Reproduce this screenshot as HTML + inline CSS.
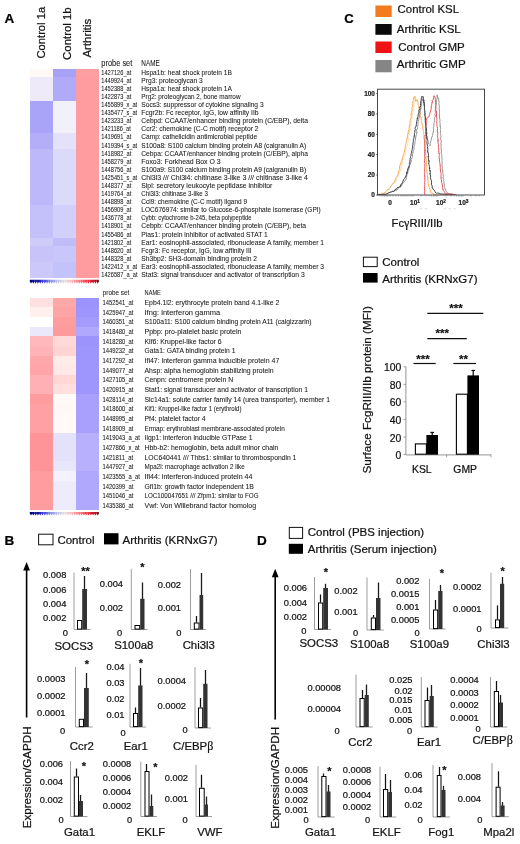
<!DOCTYPE html>
<html lang="en">
<head>
<meta charset="utf-8">
<title>Figure</title>
<style>
html,body{margin:0;padding:0;background:#fff;}
body{width:520px;height:844px;overflow:hidden;font-family:"Liberation Sans", Arial, sans-serif;}
svg{display:block;}
svg text{font-family:"Liberation Sans", Arial, sans-serif;stroke:#111;stroke-width:0.22px;paint-order:stroke fill;}
svg .tb text{stroke:#1a1a1a;stroke-width:0.07px;}
</style>
</head>
<body>
<svg width="520" height="844" viewBox="0 0 520 844" shape-rendering="auto">
<rect x="0" y="0" width="520" height="844" fill="#ffffff"/>
<text x="4.5" y="23.2" font-size="13.5" fill="#000" font-weight="bold">A</text>
<text transform="translate(45.4,58.5) rotate(-90)" font-size="11.2" fill="#111">Control 1a</text>
<text transform="translate(70.8,59.9) rotate(-90)" font-size="11.4" fill="#111">Control 1b</text>
<text transform="translate(91.0,57.5) rotate(-90)" font-size="11.4" fill="#111">Arthritis</text>
<g shape-rendering="crispEdges">
<rect x="29.60" y="68.50" width="23.30" height="8.55" fill="#fff8f4"/>
<rect x="52.60" y="68.50" width="23.70" height="8.55" fill="#a8a2f6"/>
<rect x="76.00" y="68.50" width="23.10" height="8.55" fill="#fc9ea2"/>
<rect x="29.60" y="76.55" width="23.30" height="8.55" fill="#eeeafa"/>
<rect x="52.60" y="76.55" width="23.70" height="8.55" fill="#b0aaf8"/>
<rect x="76.00" y="76.55" width="23.10" height="8.55" fill="#ff9ca0"/>
<rect x="29.60" y="84.60" width="23.30" height="8.55" fill="#eeeafa"/>
<rect x="52.60" y="84.60" width="23.70" height="8.55" fill="#b0aaf8"/>
<rect x="76.00" y="84.60" width="23.10" height="8.55" fill="#ff9ca0"/>
<rect x="29.60" y="92.65" width="23.30" height="8.55" fill="#eeeafa"/>
<rect x="52.60" y="92.65" width="23.70" height="8.55" fill="#b0aaf8"/>
<rect x="76.00" y="92.65" width="23.10" height="8.55" fill="#ff9ca0"/>
<rect x="29.60" y="100.70" width="23.30" height="8.55" fill="#aaa4f8"/>
<rect x="52.60" y="100.70" width="23.70" height="8.55" fill="#f2f0fa"/>
<rect x="76.00" y="100.70" width="23.10" height="8.55" fill="#ff9ca0"/>
<rect x="29.60" y="108.75" width="23.30" height="8.55" fill="#aaa4f8"/>
<rect x="52.60" y="108.75" width="23.70" height="8.55" fill="#f2f0fa"/>
<rect x="76.00" y="108.75" width="23.10" height="8.55" fill="#ff9ca0"/>
<rect x="29.60" y="116.80" width="23.30" height="8.55" fill="#aaa4f8"/>
<rect x="52.60" y="116.80" width="23.70" height="8.55" fill="#f2f0fa"/>
<rect x="76.00" y="116.80" width="23.10" height="8.55" fill="#ff9ca0"/>
<rect x="29.60" y="124.85" width="23.30" height="8.55" fill="#aaa4f8"/>
<rect x="52.60" y="124.85" width="23.70" height="8.55" fill="#f2f0fa"/>
<rect x="76.00" y="124.85" width="23.10" height="8.55" fill="#ff9ca0"/>
<rect x="29.60" y="132.90" width="23.30" height="8.55" fill="#b4aef8"/>
<rect x="52.60" y="132.90" width="23.70" height="8.55" fill="#e4e2fa"/>
<rect x="76.00" y="132.90" width="23.10" height="8.55" fill="#ff9ca0"/>
<rect x="29.60" y="140.95" width="23.30" height="8.55" fill="#b4aef8"/>
<rect x="52.60" y="140.95" width="23.70" height="8.55" fill="#e4e2fa"/>
<rect x="76.00" y="140.95" width="23.10" height="8.55" fill="#ff9ca0"/>
<rect x="29.60" y="149.00" width="23.30" height="8.55" fill="#bcb8fa"/>
<rect x="52.60" y="149.00" width="23.70" height="8.55" fill="#dcdafa"/>
<rect x="76.00" y="149.00" width="23.10" height="8.55" fill="#ff9ca0"/>
<rect x="29.60" y="157.05" width="23.30" height="8.55" fill="#bcb8fa"/>
<rect x="52.60" y="157.05" width="23.70" height="8.55" fill="#dcdafa"/>
<rect x="76.00" y="157.05" width="23.10" height="8.55" fill="#ff9ca0"/>
<rect x="29.60" y="165.10" width="23.30" height="8.55" fill="#bcb8fa"/>
<rect x="52.60" y="165.10" width="23.70" height="8.55" fill="#dcdafa"/>
<rect x="76.00" y="165.10" width="23.10" height="8.55" fill="#ff9ca0"/>
<rect x="29.60" y="173.15" width="23.30" height="8.55" fill="#bcb8fa"/>
<rect x="52.60" y="173.15" width="23.70" height="8.55" fill="#dcdafa"/>
<rect x="76.00" y="173.15" width="23.10" height="8.55" fill="#ff9ca0"/>
<rect x="29.60" y="181.20" width="23.30" height="8.55" fill="#bcb8fa"/>
<rect x="52.60" y="181.20" width="23.70" height="8.55" fill="#dcdafa"/>
<rect x="76.00" y="181.20" width="23.10" height="8.55" fill="#ff9ca0"/>
<rect x="29.60" y="189.25" width="23.30" height="8.55" fill="#bcb8fa"/>
<rect x="52.60" y="189.25" width="23.70" height="8.55" fill="#dcdafa"/>
<rect x="76.00" y="189.25" width="23.10" height="8.55" fill="#ff9ca0"/>
<rect x="29.60" y="197.30" width="23.30" height="8.55" fill="#bcb8fa"/>
<rect x="52.60" y="197.30" width="23.70" height="8.55" fill="#dcdafa"/>
<rect x="76.00" y="197.30" width="23.10" height="8.55" fill="#ff9ca0"/>
<rect x="29.60" y="205.35" width="23.30" height="8.55" fill="#c4c0fa"/>
<rect x="52.60" y="205.35" width="23.70" height="8.55" fill="#d2cffa"/>
<rect x="76.00" y="205.35" width="23.10" height="8.55" fill="#ff9ca0"/>
<rect x="29.60" y="213.40" width="23.30" height="8.55" fill="#c4c0fa"/>
<rect x="52.60" y="213.40" width="23.70" height="8.55" fill="#d2cffa"/>
<rect x="76.00" y="213.40" width="23.10" height="8.55" fill="#ff9ca0"/>
<rect x="29.60" y="221.45" width="23.30" height="8.55" fill="#c4c0fa"/>
<rect x="52.60" y="221.45" width="23.70" height="8.55" fill="#d2cffa"/>
<rect x="76.00" y="221.45" width="23.10" height="8.55" fill="#ff9ca0"/>
<rect x="29.60" y="229.50" width="23.30" height="8.55" fill="#c4c0fa"/>
<rect x="52.60" y="229.50" width="23.70" height="8.55" fill="#d2cffa"/>
<rect x="76.00" y="229.50" width="23.10" height="8.55" fill="#ff9ca0"/>
<rect x="29.60" y="237.55" width="23.30" height="8.55" fill="#d0ccfa"/>
<rect x="52.60" y="237.55" width="23.70" height="8.55" fill="#c0bcf8"/>
<rect x="76.00" y="237.55" width="23.10" height="8.55" fill="#ff9ca0"/>
<rect x="29.60" y="245.60" width="23.30" height="8.55" fill="#c8c4fa"/>
<rect x="52.60" y="245.60" width="23.70" height="8.55" fill="#c8c6fa"/>
<rect x="76.00" y="245.60" width="23.10" height="8.55" fill="#ff9ca0"/>
<rect x="29.60" y="253.65" width="23.30" height="8.55" fill="#c8c4fa"/>
<rect x="52.60" y="253.65" width="23.70" height="8.55" fill="#c8c6fa"/>
<rect x="76.00" y="253.65" width="23.10" height="8.55" fill="#ff9ca0"/>
<rect x="29.60" y="261.70" width="23.30" height="8.55" fill="#ccc8fa"/>
<rect x="52.60" y="261.70" width="23.70" height="8.55" fill="#c4c2fa"/>
<rect x="76.00" y="261.70" width="23.10" height="8.55" fill="#ff9ca0"/>
<rect x="29.60" y="269.75" width="23.30" height="8.55" fill="#ccc8fa"/>
<rect x="52.60" y="269.75" width="23.70" height="8.55" fill="#c4c2fa"/>
<rect x="76.00" y="269.75" width="23.10" height="8.55" fill="#ff9ca0"/>
<rect x="29.60" y="297.80" width="23.30" height="10.13" fill="#ffe0e0"/>
<rect x="52.60" y="297.80" width="23.70" height="10.13" fill="#ffa8a8"/>
<rect x="76.00" y="297.80" width="23.10" height="10.13" fill="#9c94fc"/>
<rect x="29.60" y="307.43" width="23.30" height="10.13" fill="#fff0ee"/>
<rect x="52.60" y="307.43" width="23.70" height="10.13" fill="#ffa4a4"/>
<rect x="76.00" y="307.43" width="23.10" height="10.13" fill="#9e96fc"/>
<rect x="29.60" y="317.05" width="23.30" height="10.13" fill="#ffffff"/>
<rect x="52.60" y="317.05" width="23.70" height="10.13" fill="#ff9c9e"/>
<rect x="76.00" y="317.05" width="23.10" height="10.13" fill="#a49cfc"/>
<rect x="29.60" y="326.68" width="23.30" height="10.13" fill="#ece8fc"/>
<rect x="52.60" y="326.68" width="23.70" height="10.13" fill="#ff9a9c"/>
<rect x="76.00" y="326.68" width="23.10" height="10.13" fill="#b0a8fc"/>
<rect x="29.60" y="336.31" width="23.30" height="10.13" fill="#ffb8bc"/>
<rect x="52.60" y="336.31" width="23.70" height="10.13" fill="#ffd8d8"/>
<rect x="76.00" y="336.31" width="23.10" height="10.13" fill="#9c94fc"/>
<rect x="29.60" y="345.94" width="23.30" height="10.13" fill="#ffb4b8"/>
<rect x="52.60" y="345.94" width="23.70" height="10.13" fill="#ffd4d4"/>
<rect x="76.00" y="345.94" width="23.10" height="10.13" fill="#9e96fc"/>
<rect x="29.60" y="355.56" width="23.30" height="10.13" fill="#ffa8ac"/>
<rect x="52.60" y="355.56" width="23.70" height="10.13" fill="#ffece8"/>
<rect x="76.00" y="355.56" width="23.10" height="10.13" fill="#9e96fc"/>
<rect x="29.60" y="365.19" width="23.30" height="10.13" fill="#ffa4a8"/>
<rect x="52.60" y="365.19" width="23.70" height="10.13" fill="#ffe8e6"/>
<rect x="76.00" y="365.19" width="23.10" height="10.13" fill="#9e96fc"/>
<rect x="29.60" y="374.82" width="23.30" height="10.13" fill="#ffb0b4"/>
<rect x="52.60" y="374.82" width="23.70" height="10.13" fill="#ffd8d6"/>
<rect x="76.00" y="374.82" width="23.10" height="10.13" fill="#9e96fc"/>
<rect x="29.60" y="384.45" width="23.30" height="10.13" fill="#ffb0b4"/>
<rect x="52.60" y="384.45" width="23.70" height="10.13" fill="#ffe0de"/>
<rect x="76.00" y="384.45" width="23.10" height="10.13" fill="#9e96fc"/>
<rect x="29.60" y="394.07" width="23.30" height="10.13" fill="#ff9ca0"/>
<rect x="52.60" y="394.07" width="23.70" height="10.13" fill="#fffaf8"/>
<rect x="76.00" y="394.07" width="23.10" height="10.13" fill="#a8a0fc"/>
<rect x="29.60" y="403.70" width="23.30" height="10.13" fill="#ffa0a4"/>
<rect x="52.60" y="403.70" width="23.70" height="10.13" fill="#fff8f6"/>
<rect x="76.00" y="403.70" width="23.10" height="10.13" fill="#a8a0fc"/>
<rect x="29.60" y="413.33" width="23.30" height="10.13" fill="#ffa0a4"/>
<rect x="52.60" y="413.33" width="23.70" height="10.13" fill="#fffaf8"/>
<rect x="76.00" y="413.33" width="23.10" height="10.13" fill="#a8a0fc"/>
<rect x="29.60" y="422.95" width="23.30" height="10.13" fill="#ffa0a4"/>
<rect x="52.60" y="422.95" width="23.70" height="10.13" fill="#fffaf8"/>
<rect x="76.00" y="422.95" width="23.10" height="10.13" fill="#a8a0fc"/>
<rect x="29.60" y="432.58" width="23.30" height="10.13" fill="#ff9498"/>
<rect x="52.60" y="432.58" width="23.70" height="10.13" fill="#e4e2fa"/>
<rect x="76.00" y="432.58" width="23.10" height="10.13" fill="#b8b0fc"/>
<rect x="29.60" y="442.21" width="23.30" height="10.13" fill="#ff9498"/>
<rect x="52.60" y="442.21" width="23.70" height="10.13" fill="#e4e2fa"/>
<rect x="76.00" y="442.21" width="23.10" height="10.13" fill="#b8b0fc"/>
<rect x="29.60" y="451.84" width="23.30" height="10.13" fill="#ff9498"/>
<rect x="52.60" y="451.84" width="23.70" height="10.13" fill="#e4e2fa"/>
<rect x="76.00" y="451.84" width="23.10" height="10.13" fill="#b8b0fc"/>
<rect x="29.60" y="461.46" width="23.30" height="10.13" fill="#ff9498"/>
<rect x="52.60" y="461.46" width="23.70" height="10.13" fill="#e8e6fa"/>
<rect x="76.00" y="461.46" width="23.10" height="10.13" fill="#b8b0fc"/>
<rect x="29.60" y="471.09" width="23.30" height="10.13" fill="#ff9ca0"/>
<rect x="52.60" y="471.09" width="23.70" height="10.13" fill="#f4f2fc"/>
<rect x="76.00" y="471.09" width="23.10" height="10.13" fill="#b0a8fc"/>
<rect x="29.60" y="480.72" width="23.30" height="10.13" fill="#ff9ca0"/>
<rect x="52.60" y="480.72" width="23.70" height="10.13" fill="#eeecfc"/>
<rect x="76.00" y="480.72" width="23.10" height="10.13" fill="#b0a8fc"/>
<rect x="29.60" y="490.35" width="23.30" height="10.13" fill="#ff9ca0"/>
<rect x="52.60" y="490.35" width="23.70" height="10.13" fill="#eeecfc"/>
<rect x="76.00" y="490.35" width="23.10" height="10.13" fill="#b0a8fc"/>
<rect x="29.60" y="499.97" width="23.30" height="10.13" fill="#ff9ca0"/>
<rect x="52.60" y="499.97" width="23.70" height="10.13" fill="#eeecfc"/>
<rect x="76.00" y="499.97" width="23.10" height="10.13" fill="#b0a8fc"/>
</g>
<path d="M29.80 279.80h2.40v1.5l-1.20 2.50l-1.20 -2.50z" fill="rgb(0,0,115)"/>
<path d="M32.10 279.80h2.40v1.5l-1.20 2.50l-1.20 -2.50z" fill="rgb(7,7,134)"/>
<path d="M34.40 279.80h2.40v1.5l-1.20 2.50l-1.20 -2.50z" fill="rgb(14,14,154)"/>
<path d="M36.70 279.80h2.40v1.5l-1.20 2.50l-1.20 -2.50z" fill="rgb(21,21,173)"/>
<path d="M39.00 279.80h2.40v1.5l-1.20 2.50l-1.20 -2.50z" fill="rgb(34,34,190)"/>
<path d="M41.30 279.80h2.40v1.5l-1.20 2.50l-1.20 -2.50z" fill="rgb(57,57,204)"/>
<path d="M43.60 279.80h2.40v1.5l-1.20 2.50l-1.20 -2.50z" fill="rgb(81,81,218)"/>
<path d="M45.90 279.80h2.40v1.5l-1.20 2.50l-1.20 -2.50z" fill="rgb(104,104,232)"/>
<path d="M48.20 279.80h2.40v1.5l-1.20 2.50l-1.20 -2.50z" fill="rgb(126,126,234)"/>
<path d="M50.50 279.80h2.40v1.5l-1.20 2.50l-1.20 -2.50z" fill="rgb(146,146,233)"/>
<path d="M52.80 279.80h2.40v1.5l-1.20 2.50l-1.20 -2.50z" fill="rgb(167,167,231)"/>
<path d="M55.10 279.80h2.40v1.5l-1.20 2.50l-1.20 -2.50z" fill="rgb(186,186,230)"/>
<path d="M57.40 279.80h2.40v1.5l-1.20 2.50l-1.20 -2.50z" fill="rgb(197,197,231)"/>
<path d="M59.70 279.80h2.40v1.5l-1.20 2.50l-1.20 -2.50z" fill="rgb(208,208,231)"/>
<path d="M62.00 279.80h2.40v1.5l-1.20 2.50l-1.20 -2.50z" fill="rgb(219,219,232)"/>
<path d="M64.30 279.80h2.40v1.5l-1.20 2.50l-1.20 -2.50z" fill="rgb(240,219,219)"/>
<path d="M66.60 279.80h2.40v1.5l-1.20 2.50l-1.20 -2.50z" fill="rgb(243,206,208)"/>
<path d="M68.90 279.80h2.40v1.5l-1.20 2.50l-1.20 -2.50z" fill="rgb(246,194,197)"/>
<path d="M71.20 279.80h2.40v1.5l-1.20 2.50l-1.20 -2.50z" fill="rgb(250,182,186)"/>
<path d="M73.50 279.80h2.40v1.5l-1.20 2.50l-1.20 -2.50z" fill="rgb(251,163,169)"/>
<path d="M75.80 279.80h2.40v1.5l-1.20 2.50l-1.20 -2.50z" fill="rgb(252,143,151)"/>
<path d="M78.10 279.80h2.40v1.5l-1.20 2.50l-1.20 -2.50z" fill="rgb(253,124,132)"/>
<path d="M80.40 279.80h2.40v1.5l-1.20 2.50l-1.20 -2.50z" fill="rgb(254,104,114)"/>
<path d="M82.70 279.80h2.40v1.5l-1.20 2.50l-1.20 -2.50z" fill="rgb(250,86,97)"/>
<path d="M85.00 279.80h2.40v1.5l-1.20 2.50l-1.20 -2.50z" fill="rgb(241,69,82)"/>
<path d="M87.30 279.80h2.40v1.5l-1.20 2.50l-1.20 -2.50z" fill="rgb(232,51,67)"/>
<path d="M89.60 279.80h2.40v1.5l-1.20 2.50l-1.20 -2.50z" fill="rgb(223,34,52)"/>
<path d="M91.90 279.80h2.40v1.5l-1.20 2.50l-1.20 -2.50z" fill="rgb(209,19,39)"/>
<path d="M94.20 279.80h2.40v1.5l-1.20 2.50l-1.20 -2.50z" fill="rgb(174,15,35)"/>
<path d="M96.50 279.80h2.40v1.5l-1.20 2.50l-1.20 -2.50z" fill="rgb(140,10,30)"/>
<path d="M29.80 512.00h2.40v1.5l-1.20 2.10l-1.20 -2.10z" fill="rgb(0,0,115)"/>
<path d="M32.10 512.00h2.40v1.5l-1.20 2.10l-1.20 -2.10z" fill="rgb(7,7,134)"/>
<path d="M34.40 512.00h2.40v1.5l-1.20 2.10l-1.20 -2.10z" fill="rgb(14,14,154)"/>
<path d="M36.70 512.00h2.40v1.5l-1.20 2.10l-1.20 -2.10z" fill="rgb(21,21,173)"/>
<path d="M39.00 512.00h2.40v1.5l-1.20 2.10l-1.20 -2.10z" fill="rgb(34,34,190)"/>
<path d="M41.30 512.00h2.40v1.5l-1.20 2.10l-1.20 -2.10z" fill="rgb(57,57,204)"/>
<path d="M43.60 512.00h2.40v1.5l-1.20 2.10l-1.20 -2.10z" fill="rgb(81,81,218)"/>
<path d="M45.90 512.00h2.40v1.5l-1.20 2.10l-1.20 -2.10z" fill="rgb(104,104,232)"/>
<path d="M48.20 512.00h2.40v1.5l-1.20 2.10l-1.20 -2.10z" fill="rgb(126,126,234)"/>
<path d="M50.50 512.00h2.40v1.5l-1.20 2.10l-1.20 -2.10z" fill="rgb(146,146,233)"/>
<path d="M52.80 512.00h2.40v1.5l-1.20 2.10l-1.20 -2.10z" fill="rgb(167,167,231)"/>
<path d="M55.10 512.00h2.40v1.5l-1.20 2.10l-1.20 -2.10z" fill="rgb(186,186,230)"/>
<path d="M57.40 512.00h2.40v1.5l-1.20 2.10l-1.20 -2.10z" fill="rgb(197,197,231)"/>
<path d="M59.70 512.00h2.40v1.5l-1.20 2.10l-1.20 -2.10z" fill="rgb(208,208,231)"/>
<path d="M62.00 512.00h2.40v1.5l-1.20 2.10l-1.20 -2.10z" fill="rgb(219,219,232)"/>
<path d="M64.30 512.00h2.40v1.5l-1.20 2.10l-1.20 -2.10z" fill="rgb(240,219,219)"/>
<path d="M66.60 512.00h2.40v1.5l-1.20 2.10l-1.20 -2.10z" fill="rgb(243,206,208)"/>
<path d="M68.90 512.00h2.40v1.5l-1.20 2.10l-1.20 -2.10z" fill="rgb(246,194,197)"/>
<path d="M71.20 512.00h2.40v1.5l-1.20 2.10l-1.20 -2.10z" fill="rgb(250,182,186)"/>
<path d="M73.50 512.00h2.40v1.5l-1.20 2.10l-1.20 -2.10z" fill="rgb(251,163,169)"/>
<path d="M75.80 512.00h2.40v1.5l-1.20 2.10l-1.20 -2.10z" fill="rgb(252,143,151)"/>
<path d="M78.10 512.00h2.40v1.5l-1.20 2.10l-1.20 -2.10z" fill="rgb(253,124,132)"/>
<path d="M80.40 512.00h2.40v1.5l-1.20 2.10l-1.20 -2.10z" fill="rgb(254,104,114)"/>
<path d="M82.70 512.00h2.40v1.5l-1.20 2.10l-1.20 -2.10z" fill="rgb(250,86,97)"/>
<path d="M85.00 512.00h2.40v1.5l-1.20 2.10l-1.20 -2.10z" fill="rgb(241,69,82)"/>
<path d="M87.30 512.00h2.40v1.5l-1.20 2.10l-1.20 -2.10z" fill="rgb(232,51,67)"/>
<path d="M89.60 512.00h2.40v1.5l-1.20 2.10l-1.20 -2.10z" fill="rgb(223,34,52)"/>
<path d="M91.90 512.00h2.40v1.5l-1.20 2.10l-1.20 -2.10z" fill="rgb(209,19,39)"/>
<path d="M94.20 512.00h2.40v1.5l-1.20 2.10l-1.20 -2.10z" fill="rgb(174,15,35)"/>
<path d="M96.50 512.00h2.40v1.5l-1.20 2.10l-1.20 -2.10z" fill="rgb(140,10,30)"/>
<g class="tb">
<text x="101.3" y="66.0" font-size="8.2" fill="#1a1a1a" textLength="31.0" lengthAdjust="spacingAndGlyphs">probe set</text>
<text x="141.3" y="66.0" font-size="8.2" fill="#1a1a1a" textLength="18.4" lengthAdjust="spacingAndGlyphs">NAME</text>
<text x="101.3" y="74.6" font-size="7" fill="#1a1a1a" textLength="30.0" lengthAdjust="spacingAndGlyphs">1427126_at</text>
<text x="141.3" y="74.6" font-size="7" fill="#1a1a1a" textLength="90.5" lengthAdjust="spacingAndGlyphs">Hspa1b: heat shock protein 1B</text>
<text x="101.3" y="82.7" font-size="7" fill="#1a1a1a" textLength="30.0" lengthAdjust="spacingAndGlyphs">1449924_at</text>
<text x="141.3" y="82.7" font-size="7" fill="#1a1a1a" textLength="61.4" lengthAdjust="spacingAndGlyphs">Prg3: proteoglycan 3</text>
<text x="101.3" y="90.8" font-size="7" fill="#1a1a1a" textLength="30.0" lengthAdjust="spacingAndGlyphs">1452388_at</text>
<text x="141.3" y="90.8" font-size="7" fill="#1a1a1a" textLength="90.5" lengthAdjust="spacingAndGlyphs">Hspa1a: heat shock protein 1A</text>
<text x="101.3" y="98.9" font-size="7" fill="#1a1a1a" textLength="30.0" lengthAdjust="spacingAndGlyphs">1422873_at</text>
<text x="141.3" y="98.9" font-size="7" fill="#1a1a1a" textLength="99.2" lengthAdjust="spacingAndGlyphs">Prg2: proteoglycan 2, bone marrow</text>
<text x="101.3" y="107.0" font-size="7" fill="#1a1a1a" textLength="35.9" lengthAdjust="spacingAndGlyphs">1455899_x_at</text>
<text x="141.3" y="107.0" font-size="7" fill="#1a1a1a" textLength="122.3" lengthAdjust="spacingAndGlyphs">Socs3: suppressor of cytokine signaling 3</text>
<text x="101.3" y="115.1" font-size="7" fill="#1a1a1a" textLength="35.9" lengthAdjust="spacingAndGlyphs">1435477_s_at</text>
<text x="141.3" y="115.1" font-size="7" fill="#1a1a1a" textLength="117.2" lengthAdjust="spacingAndGlyphs">Fcgr2b: Fc receptor, IgG, low affinity IIb</text>
<text x="101.3" y="123.2" font-size="7" fill="#1a1a1a" textLength="30.0" lengthAdjust="spacingAndGlyphs">1423233_at</text>
<text x="141.3" y="123.2" font-size="7" fill="#1a1a1a" textLength="166.6" lengthAdjust="spacingAndGlyphs">Cebpd: CCAAT/enhancer binding protein (C/EBP), delta</text>
<text x="101.3" y="131.3" font-size="7" fill="#1a1a1a" textLength="29.5" lengthAdjust="spacingAndGlyphs">1421186_at</text>
<text x="141.3" y="131.3" font-size="7" fill="#1a1a1a" textLength="117.2" lengthAdjust="spacingAndGlyphs">Ccr2: chemokine (C-C motif) receptor 2</text>
<text x="101.3" y="139.4" font-size="7" fill="#1a1a1a" textLength="30.0" lengthAdjust="spacingAndGlyphs">1419691_at</text>
<text x="141.3" y="139.4" font-size="7" fill="#1a1a1a" textLength="115.8" lengthAdjust="spacingAndGlyphs">Camp: cathelicidin antimicrobial peptide</text>
<text x="101.3" y="147.5" font-size="7" fill="#1a1a1a" textLength="35.9" lengthAdjust="spacingAndGlyphs">1419394_s_at</text>
<text x="141.3" y="147.5" font-size="7" fill="#1a1a1a" textLength="164.8" lengthAdjust="spacingAndGlyphs">S100a8: S100 calcium binding protein A8 (calgranulin A)</text>
<text x="101.3" y="155.6" font-size="7" fill="#1a1a1a" textLength="30.0" lengthAdjust="spacingAndGlyphs">1418982_at</text>
<text x="141.3" y="155.6" font-size="7" fill="#1a1a1a" textLength="166.6" lengthAdjust="spacingAndGlyphs">Cebpa: CCAAT/enhancer binding protein (C/EBP), alpha</text>
<text x="101.3" y="163.7" font-size="7" fill="#1a1a1a" textLength="30.0" lengthAdjust="spacingAndGlyphs">1458279_at</text>
<text x="141.3" y="163.7" font-size="7" fill="#1a1a1a" textLength="79.4" lengthAdjust="spacingAndGlyphs">Foxo3: Forkhead Box O 3</text>
<text x="101.3" y="171.8" font-size="7" fill="#1a1a1a" textLength="30.0" lengthAdjust="spacingAndGlyphs">1448756_at</text>
<text x="141.3" y="171.8" font-size="7" fill="#1a1a1a" textLength="164.8" lengthAdjust="spacingAndGlyphs">S100a9: S100 calcium binding protein A9 (calgranulin B)</text>
<text x="101.3" y="179.8" font-size="7" fill="#1a1a1a" textLength="35.9" lengthAdjust="spacingAndGlyphs">1425451_s_at</text>
<text x="141.3" y="179.8" font-size="7" fill="#1a1a1a" textLength="166.6" lengthAdjust="spacingAndGlyphs">Chi3l3 /// Chi3l4: chitinase 3-like 3 /// chitinase 3-like 4</text>
<text x="101.3" y="187.9" font-size="7" fill="#1a1a1a" textLength="30.0" lengthAdjust="spacingAndGlyphs">1448377_at</text>
<text x="141.3" y="187.9" font-size="7" fill="#1a1a1a" textLength="131.1" lengthAdjust="spacingAndGlyphs">Slpi: secretory leukocyte peptidase inhibitor</text>
<text x="101.3" y="196.0" font-size="7" fill="#1a1a1a" textLength="30.0" lengthAdjust="spacingAndGlyphs">1419764_at</text>
<text x="141.3" y="196.0" font-size="7" fill="#1a1a1a" textLength="66.5" lengthAdjust="spacingAndGlyphs">Chi3l3: chitinase 3-like 3</text>
<text x="101.3" y="204.1" font-size="7" fill="#1a1a1a" textLength="30.0" lengthAdjust="spacingAndGlyphs">1448898_at</text>
<text x="141.3" y="204.1" font-size="7" fill="#1a1a1a" textLength="105.7" lengthAdjust="spacingAndGlyphs">Ccl9: chemokine (C-C motif) ligand 9</text>
<text x="101.3" y="212.2" font-size="7" fill="#1a1a1a" textLength="30.0" lengthAdjust="spacingAndGlyphs">1456909_at</text>
<text x="141.3" y="212.2" font-size="7" fill="#1a1a1a" textLength="179.5" lengthAdjust="spacingAndGlyphs">LOC676974: similar to Glucose-6-phosphate isomerase (GPI)</text>
<text x="101.3" y="220.3" font-size="7" fill="#1a1a1a" textLength="30.0" lengthAdjust="spacingAndGlyphs">1436778_at</text>
<text x="141.3" y="220.3" font-size="7" fill="#1a1a1a" textLength="110.3" lengthAdjust="spacingAndGlyphs">Cybb: cytochrome b-245, beta polypeptide</text>
<text x="101.3" y="228.4" font-size="7" fill="#1a1a1a" textLength="30.0" lengthAdjust="spacingAndGlyphs">1418901_at</text>
<text x="141.3" y="228.4" font-size="7" fill="#1a1a1a" textLength="164.8" lengthAdjust="spacingAndGlyphs">Cebpb: CCAAT/enhancer binding protein (C/EBP), beta</text>
<text x="101.3" y="236.5" font-size="7" fill="#1a1a1a" textLength="30.0" lengthAdjust="spacingAndGlyphs">1455486_at</text>
<text x="141.3" y="236.5" font-size="7" fill="#1a1a1a" textLength="126.5" lengthAdjust="spacingAndGlyphs">Pias1: protein inhibitor of activated STAT 1</text>
<text x="101.3" y="244.6" font-size="7" fill="#1a1a1a" textLength="30.0" lengthAdjust="spacingAndGlyphs">1421802_at</text>
<text x="141.3" y="244.6" font-size="7" fill="#1a1a1a" textLength="182.7" lengthAdjust="spacingAndGlyphs">Ear1: eosinophil-associated, ribonuclease A family, member 1</text>
<text x="101.3" y="252.7" font-size="7" fill="#1a1a1a" textLength="30.0" lengthAdjust="spacingAndGlyphs">1448620_at</text>
<text x="141.3" y="252.7" font-size="7" fill="#1a1a1a" textLength="110.3" lengthAdjust="spacingAndGlyphs">Fcgr3: Fc receptor, IgG, low affinity III</text>
<text x="101.3" y="260.8" font-size="7" fill="#1a1a1a" textLength="30.0" lengthAdjust="spacingAndGlyphs">1448328_at</text>
<text x="141.3" y="260.8" font-size="7" fill="#1a1a1a" textLength="115.8" lengthAdjust="spacingAndGlyphs">Sh3bp2: SH3-domain binding protein 2</text>
<text x="101.3" y="268.9" font-size="7" fill="#1a1a1a" textLength="35.9" lengthAdjust="spacingAndGlyphs">1422412_x_at</text>
<text x="141.3" y="268.9" font-size="7" fill="#1a1a1a" textLength="182.7" lengthAdjust="spacingAndGlyphs">Ear3: eosinophil-associated, ribonuclease A family, member 3</text>
<text x="101.3" y="277.0" font-size="7" fill="#1a1a1a" textLength="36.3" lengthAdjust="spacingAndGlyphs">1426587_a_at</text>
<text x="141.3" y="277.0" font-size="7" fill="#1a1a1a" textLength="163.4" lengthAdjust="spacingAndGlyphs">Stat3: signal transducer and activator of transcription 3</text>
<text x="102.8" y="295.0" font-size="8.0" fill="#1a1a1a" textLength="26.5" lengthAdjust="spacingAndGlyphs">probe set</text>
<text x="144.6" y="295.0" font-size="8.0" fill="#1a1a1a" textLength="16.2" lengthAdjust="spacingAndGlyphs">NAME</text>
<text x="102.5" y="305.0" font-size="7.3" fill="#1a1a1a" textLength="31.0" lengthAdjust="spacingAndGlyphs">1452541_at</text>
<text x="144.5" y="305.0" font-size="7.3" fill="#1a1a1a" textLength="134.8" lengthAdjust="spacingAndGlyphs">Epb4.1l2: erythrocyte protein band 4.1-like 2</text>
<text x="102.5" y="314.7" font-size="7.3" fill="#1a1a1a" textLength="31.0" lengthAdjust="spacingAndGlyphs">1425947_at</text>
<text x="144.5" y="314.7" font-size="7.3" fill="#1a1a1a" textLength="75.7" lengthAdjust="spacingAndGlyphs">Ifng: interferon gamma</text>
<text x="102.5" y="324.3" font-size="7.3" fill="#1a1a1a" textLength="31.0" lengthAdjust="spacingAndGlyphs">1460351_at</text>
<text x="144.5" y="324.3" font-size="7.3" fill="#1a1a1a" textLength="167.1" lengthAdjust="spacingAndGlyphs">S100a11: S100 calcium binding protein A11 (calgizzarin)</text>
<text x="102.5" y="334.0" font-size="7.3" fill="#1a1a1a" textLength="31.0" lengthAdjust="spacingAndGlyphs">1418480_at</text>
<text x="144.5" y="334.0" font-size="7.3" fill="#1a1a1a" textLength="96.9" lengthAdjust="spacingAndGlyphs">Ppbp: pro-platelet basic protein</text>
<text x="102.5" y="343.7" font-size="7.3" fill="#1a1a1a" textLength="31.0" lengthAdjust="spacingAndGlyphs">1418280_at</text>
<text x="144.5" y="343.7" font-size="7.3" fill="#1a1a1a" textLength="77.1" lengthAdjust="spacingAndGlyphs">Klf6: Kruppel-like factor 6</text>
<text x="102.5" y="353.3" font-size="7.3" fill="#1a1a1a" textLength="31.0" lengthAdjust="spacingAndGlyphs">1449232_at</text>
<text x="144.5" y="353.3" font-size="7.3" fill="#1a1a1a" textLength="90.9" lengthAdjust="spacingAndGlyphs">Gata1: GATA binding protein 1</text>
<text x="102.5" y="363.0" font-size="7.3" fill="#1a1a1a" textLength="31.0" lengthAdjust="spacingAndGlyphs">1417292_at</text>
<text x="144.5" y="363.0" font-size="7.3" fill="#1a1a1a" textLength="134.8" lengthAdjust="spacingAndGlyphs">Ifi47: interferon gamma inducible protein 47</text>
<text x="102.5" y="372.7" font-size="7.3" fill="#1a1a1a" textLength="31.0" lengthAdjust="spacingAndGlyphs">1449077_at</text>
<text x="144.5" y="372.7" font-size="7.3" fill="#1a1a1a" textLength="129.2" lengthAdjust="spacingAndGlyphs">Ahsp: alpha hemoglobin stabilizing protein</text>
<text x="102.5" y="382.3" font-size="7.3" fill="#1a1a1a" textLength="31.0" lengthAdjust="spacingAndGlyphs">1427105_at</text>
<text x="144.5" y="382.3" font-size="7.3" fill="#1a1a1a" textLength="88.6" lengthAdjust="spacingAndGlyphs">Cenpn: centromere protein N</text>
<text x="102.5" y="392.0" font-size="7.3" fill="#1a1a1a" textLength="31.0" lengthAdjust="spacingAndGlyphs">1420915_at</text>
<text x="144.5" y="392.0" font-size="7.3" fill="#1a1a1a" textLength="163.4" lengthAdjust="spacingAndGlyphs">Stat1: signal transducer and activator of transcription 1</text>
<text x="102.5" y="401.7" font-size="7.3" fill="#1a1a1a" textLength="30.6" lengthAdjust="spacingAndGlyphs">1428114_at</text>
<text x="144.5" y="401.7" font-size="7.3" fill="#1a1a1a" textLength="185.5" lengthAdjust="spacingAndGlyphs">Slc14a1: solute carrier family 14 (urea transporter), member 1</text>
<text x="102.5" y="411.3" font-size="7.3" fill="#1a1a1a" textLength="31.0" lengthAdjust="spacingAndGlyphs">1418600_at</text>
<text x="144.5" y="411.3" font-size="7.3" fill="#1a1a1a" textLength="96.9" lengthAdjust="spacingAndGlyphs">Klf1: Kruppel-like factor 1 (erythroid)</text>
<text x="102.5" y="421.0" font-size="7.3" fill="#1a1a1a" textLength="31.0" lengthAdjust="spacingAndGlyphs">1448995_at</text>
<text x="144.5" y="421.0" font-size="7.3" fill="#1a1a1a" textLength="61.0" lengthAdjust="spacingAndGlyphs">Pf4: platelet factor 4</text>
<text x="102.5" y="430.7" font-size="7.3" fill="#1a1a1a" textLength="31.0" lengthAdjust="spacingAndGlyphs">1418909_at</text>
<text x="144.5" y="430.7" font-size="7.3" fill="#1a1a1a" textLength="140.3" lengthAdjust="spacingAndGlyphs">Ermap: erythroblast membrane-associated protein</text>
<text x="102.5" y="440.3" font-size="7.3" fill="#1a1a1a" textLength="37.5" lengthAdjust="spacingAndGlyphs">1419043_a_at</text>
<text x="144.5" y="440.3" font-size="7.3" fill="#1a1a1a" textLength="108.0" lengthAdjust="spacingAndGlyphs">Iigp1: interferon inducible GTPase 1</text>
<text x="102.5" y="450.0" font-size="7.3" fill="#1a1a1a" textLength="37.2" lengthAdjust="spacingAndGlyphs">1427866_x_at</text>
<text x="144.5" y="450.0" font-size="7.3" fill="#1a1a1a" textLength="133.9" lengthAdjust="spacingAndGlyphs">Hbb-b2: hemoglobin, beta adult minor chain</text>
<text x="102.5" y="459.7" font-size="7.3" fill="#1a1a1a" textLength="30.6" lengthAdjust="spacingAndGlyphs">1421811_at</text>
<text x="144.5" y="459.7" font-size="7.3" fill="#1a1a1a" textLength="151.9" lengthAdjust="spacingAndGlyphs">LOC640441 /// Thbs1: similar to thrombospondin 1</text>
<text x="102.5" y="469.3" font-size="7.3" fill="#1a1a1a" textLength="31.0" lengthAdjust="spacingAndGlyphs">1447927_at</text>
<text x="144.5" y="469.3" font-size="7.3" fill="#1a1a1a" textLength="100.2" lengthAdjust="spacingAndGlyphs">Mpa2l: macrophage activation 2 like</text>
<text x="102.5" y="479.0" font-size="7.3" fill="#1a1a1a" textLength="37.5" lengthAdjust="spacingAndGlyphs">1423555_a_at</text>
<text x="144.5" y="479.0" font-size="7.3" fill="#1a1a1a" textLength="108.0" lengthAdjust="spacingAndGlyphs">Ifi44: interferon-induced protein 44</text>
<text x="102.5" y="488.7" font-size="7.3" fill="#1a1a1a" textLength="31.0" lengthAdjust="spacingAndGlyphs">1420399_at</text>
<text x="144.5" y="488.7" font-size="7.3" fill="#1a1a1a" textLength="109.4" lengthAdjust="spacingAndGlyphs">Gfi1b: growth factor independent 1B</text>
<text x="102.5" y="498.3" font-size="7.3" fill="#1a1a1a" textLength="31.0" lengthAdjust="spacingAndGlyphs">1451046_at</text>
<text x="144.5" y="498.3" font-size="7.3" fill="#1a1a1a" textLength="114.0" lengthAdjust="spacingAndGlyphs">LOC100047651 /// Zfpm1: similar to FOG</text>
<text x="102.5" y="508.0" font-size="7.3" fill="#1a1a1a" textLength="31.0" lengthAdjust="spacingAndGlyphs">1435386_at</text>
<text x="144.5" y="508.0" font-size="7.3" fill="#1a1a1a" textLength="111.7" lengthAdjust="spacingAndGlyphs">Vwf: Von Willebrand factor homolog</text>
</g>
<text x="344.2" y="22.8" font-size="13.2" fill="#000" font-weight="bold">C</text>
<rect x="375.40" y="5.50" width="16.30" height="11.50" fill="#f47a20"/>
<rect x="375.40" y="24.00" width="16.30" height="10.80" fill="#0a0a0a"/>
<rect x="375.40" y="41.50" width="16.30" height="11.50" fill="#ee1212"/>
<rect x="375.40" y="60.00" width="16.30" height="12.30" fill="#858585"/>
<text x="397.6" y="12.8" font-size="11.4" fill="#111">Control KSL</text>
<text x="396.8" y="33.1" font-size="11.5" fill="#111">Arthritic KSL</text>
<text x="398.3" y="50.6" font-size="11.5" fill="#111">Control GMP</text>
<text x="396.8" y="68.3" font-size="11.6" fill="#111">Arthritic GMP</text>
<polyline points="377.6,194.7 378.6,194.4 379.6,194.2 380.6,194.0 381.6,193.7 382.6,193.3 383.6,193.5 384.3,192.5 385.2,192.6 385.9,191.4 386.9,190.2 387.6,190.0 387.9,189.1 388.7,189.7 389.2,188.5 390.1,187.4 390.6,186.1 390.9,185.6 391.8,185.2 392.2,184.7 392.8,183.4 393.6,183.4 393.9,182.4 394.5,182.0 395.0,180.1 395.6,179.0 395.7,179.2 396.0,177.9 396.3,177.3 397.2,176.3 397.7,175.0 397.9,174.5 398.1,173.4 398.5,173.3 398.5,171.9 398.5,171.0 399.2,170.6 399.6,168.4 399.5,168.2 399.6,166.9 399.9,165.3 400.1,165.5 400.4,163.7 400.9,163.9 400.9,162.2 401.5,162.1 401.9,161.2 401.8,159.6 402.2,159.6 402.8,157.4 402.6,156.7 402.9,156.3 403.3,155.0 403.2,154.4 403.7,153.7 404.3,153.0 404.3,151.9 404.6,150.0 405.0,150.3 405.2,149.4 405.1,147.8 405.2,147.2 405.4,145.3 405.7,144.5 406.0,143.4 406.0,142.6 406.2,142.1 406.3,142.1 406.9,139.9 406.8,139.3 407.1,138.0 407.6,138.6 407.5,136.8 407.4,135.2 407.8,134.5 408.3,133.4 407.9,133.9 408.4,131.6 408.6,130.4 408.8,131.2 409.1,129.7 408.9,128.2 409.0,128.0 409.4,127.0 409.4,125.1 409.9,125.5 410.1,124.3 410.2,123.2 410.0,121.9 410.2,120.1 410.2,119.6 410.4,119.4 411.0,118.0 411.2,118.0 411.3,116.0 410.9,114.8 411.1,113.8 411.5,114.1 411.8,112.5 411.8,112.1 411.5,110.9 412.2,110.2 412.2,108.7 412.0,108.3 412.2,107.4 412.8,105.7 412.5,105.7 412.9,103.4 412.6,102.4 413.3,102.6 412.9,101.7 413.6,100.4 413.3,99.3 413.5,97.5 414.4,97.7 414.5,97.4 414.7,96.4 415.2,96.3 415.1,97.4 415.3,99.0 415.6,99.7 415.8,101.6 416.5,99.8 417.3,99.6 417.4,100.6 417.6,100.9 417.8,101.0 418.0,102.2 417.9,104.3 418.2,104.7 418.7,105.9 418.7,106.8 419.0,108.2 418.9,108.8 419.2,109.2 419.7,110.6 419.8,112.0 420.2,112.4 420.2,113.5 420.3,114.8 420.5,115.4 420.7,117.0 421.0,117.8 421.3,117.6 421.2,119.7 421.6,119.2 421.3,120.6 421.4,121.2 421.6,122.8 422.2,124.1 422.0,124.7 422.5,124.7 422.8,127.1 422.5,128.0 422.8,128.1 423.3,129.7 422.9,129.9 423.3,130.7 423.3,131.6 423.8,132.0 423.8,133.7 423.6,134.4 424.1,135.6 423.8,137.4 424.3,138.3 424.0,137.9 424.0,139.7 424.3,139.5 424.5,141.8 424.8,141.6 424.5,143.6 424.8,144.2 424.6,143.9 425.1,145.5 424.8,147.3 425.2,148.0 425.0,149.0 425.1,149.9 425.4,149.9 425.6,151.8 425.4,151.3 425.7,152.5 425.5,153.2 425.5,154.2 425.8,155.3 426.1,156.2 426.0,156.9 426.0,157.5 426.0,158.4 426.4,160.3 426.1,161.1 426.7,161.3 426.7,162.8 426.5,164.4 426.5,164.8 426.8,166.5 426.7,167.2 427.0,167.7 426.8,168.1 426.7,168.7 426.8,170.6 427.0,170.5 427.0,172.6 427.6,173.2 427.3,173.4 427.4,174.7 427.4,175.6 427.6,177.4 428.1,177.6 427.7,179.2 427.9,179.1 427.8,180.0 428.2,181.1 428.1,182.1 428.0,182.5 428.2,183.7 428.2,183.9 428.5,185.2 428.9,186.6 429.3,187.7 429.6,189.0 429.6,188.8 430.3,189.4 430.3,191.1 430.2,192.2 430.8,192.7 431.8,193.3 432.6,193.5 433.7,194.0 434.7,194.4 435.6,194.4 436.6,194.4 437.5,194.4 438.4,194.4 439.3,194.5 440.3,194.5 441.2,194.5 442.1,194.5 443.0,194.6 444.0,194.6 444.9,194.6 445.8,194.6 446.7,194.7 447.7,194.7" fill="none" stroke="#f7ad55" stroke-width="1.0" stroke-linejoin="round"/>
<polyline points="395.2,183.8 395.5,181.9 395.9,181.5 396.5,180.5 396.9,178.7 397.0,178.2 397.8,177.4 398.1,176.0 398.2,175.6 398.9,175.4 399.2,173.8 399.3,173.1 399.6,171.6 400.1,170.8 400.4,171.2 400.1,169.4 400.9,169.4 400.9,167.2 401.0,167.5 401.3,165.9 401.5,164.9 402.3,163.2 402.5,163.0 402.8,162.5 402.6,162.0 403.0,159.6 403.0,159.6 403.5,158.4 403.6,157.6 403.9,157.6 404.0,156.5 404.8,154.6 405.1,154.7 405.3,153.0 405.2,152.2 405.9,151.6 405.7,150.4 405.9,148.8 406.0,149.2 406.3,148.5 406.5,146.3 407.0,145.3 407.1,145.7 407.6,144.5 407.6,143.7 408.0,142.2 408.0,140.4 408.2,140.2 408.4,139.6 408.2,137.6 408.8,136.8 408.7,136.3 408.8,136.1 409.4,134.3 409.4,133.4 409.5,132.7 409.4,131.3 409.6,131.7 409.9,129.6 410.4,130.0 410.2,127.6 410.2,126.5 410.5,125.6 410.5,124.9 410.9,125.1 411.2,123.3 411.1,122.6 411.3,121.3 411.2,120.2 411.9,119.1 411.8,119.0 412.1,117.3 411.9,116.5 412.1,115.9 412.6,115.7 412.7,113.3 412.3,113.6 413.0,112.2 412.9,110.4 412.9,111.1 413.3,110.1 413.5,108.1 413.1,107.0 413.5,106.9 413.9,106.0 413.9,105.2 413.9,103.8 413.7,103.3 414.0,102.5 414.4,100.5 414.2,99.4 414.9,99.4 414.9,97.4 415.5,97.4 415.8,95.9" fill="none" stroke="#fbd19a" stroke-width="0.7" stroke-linejoin="round"/>
<polyline points="377.6,194.7 378.6,194.6 379.5,194.6 380.5,194.6 381.5,194.5 382.5,194.5 383.4,194.4 384.4,194.4 385.4,194.3 386.3,194.1 387.1,193.4 387.9,193.3 388.9,192.7 389.8,192.8 390.6,192.0 391.7,191.7 392.5,191.2 393.0,191.6 393.9,191.6 394.9,190.0 395.6,190.0 396.7,190.6 397.1,189.0 397.8,189.3 398.4,187.1 399.0,187.0 400.2,187.2 400.8,186.7 401.6,184.9 401.7,185.3 402.8,183.0 403.4,183.0 403.9,182.2 404.4,181.0 405.1,180.9 405.8,179.6 406.1,178.9 406.0,179.1 406.5,177.5 406.3,176.7 406.7,176.6 406.9,174.7 407.6,173.2 407.6,173.7 408.0,171.5 407.8,170.6 408.7,170.1 408.8,170.3 408.8,168.3 409.5,168.0 409.3,167.1 409.6,165.4 409.7,165.2 410.5,164.0 410.8,162.0 410.6,161.8 411.4,161.7 411.2,159.5 411.5,159.0 412.0,157.5 412.2,157.5 412.4,156.6 412.5,154.9 412.6,154.0 413.1,152.6 413.0,152.8 413.2,150.7 413.3,150.6 413.6,150.4 414.1,149.5 413.9,147.0 413.9,146.9 414.5,145.8 414.3,144.9 414.7,144.4 414.9,143.8 415.0,141.6 415.3,141.0 415.3,140.2 415.5,139.0 415.4,138.2 415.5,138.4 415.9,136.5 415.9,136.7 416.2,134.5 416.5,134.3 416.8,132.5 416.6,132.9 416.9,132.1 416.6,130.1 416.8,129.1 417.5,128.9 417.6,127.6 417.7,126.8 417.4,126.5 418.0,124.4 418.0,124.4 417.9,123.0 418.1,121.7 418.3,121.5 418.8,119.8 418.6,119.1 419.2,117.9 419.1,116.9 419.7,116.6 419.3,114.9 419.7,114.8 420.0,113.0 419.9,113.2 420.2,111.5 420.3,111.8 420.4,110.2 420.6,109.0 421.1,109.2 420.9,106.8 421.3,105.9 421.0,106.2 421.4,105.0 421.6,104.1 421.8,101.9 421.6,101.6 422.2,101.2 422.0,99.7 422.3,98.5 422.6,98.9 423.2,100.9 423.4,100.9 423.9,102.6 423.6,102.1 424.2,104.5 424.0,103.8 424.4,105.2 424.4,106.6 424.5,106.7 424.5,107.7 424.4,109.7 424.8,109.4 424.5,110.7 424.7,111.6 424.6,112.2 425.0,114.3 424.6,114.6 425.2,114.6 425.3,115.7 425.2,117.3 425.3,117.8 425.2,119.2 425.3,120.3 425.3,120.8 425.1,122.1 425.5,122.3 425.7,124.2 425.6,124.0 425.7,124.8 425.5,126.3 425.5,127.2 425.9,127.4 426.1,128.4 426.2,130.5 426.2,130.2 426.3,131.6 426.7,132.1 426.7,134.5 426.7,135.1 426.5,136.3 426.8,137.2 427.2,136.7 427.3,139.0 427.1,139.0 427.8,139.6 428.2,140.8 428.3,141.6 428.4,143.9 428.4,143.8 429.3,144.7 429.7,145.3 430.0,145.7 430.5,144.6 430.3,143.4 430.5,142.0 431.0,140.7 431.3,140.1 431.3,139.7 431.3,139.0 431.9,137.1 432.3,136.0 432.7,135.7 432.6,135.1 432.9,133.2 433.2,132.1 433.4,131.5 433.4,131.9 433.5,130.4 433.4,128.3 433.3,127.6 433.8,127.2 433.9,127.1 433.8,125.0 434.2,123.7 433.9,123.4 434.1,122.5 434.3,121.9 434.6,120.4 434.8,119.9 434.5,119.8 434.7,117.5 434.7,117.4 435.3,116.8 435.0,114.9 434.9,114.7 435.3,113.2 435.4,112.5 435.7,112.1 435.3,111.4 435.3,109.9 435.6,108.4 435.4,108.4 435.5,107.1 436.2,105.5 435.8,105.4 436.2,104.5 436.5,102.7 436.3,102.0 436.2,102.1 436.8,100.8 436.5,100.1 437.1,98.5 437.2,97.5 437.0,96.0 437.1,94.9 437.5,97.0 438.1,98.1 438.5,97.9 438.7,99.1 438.9,100.2 438.6,101.3 439.2,101.5 439.2,102.1 438.8,103.4 439.2,105.6 439.3,105.5 439.4,106.4 439.1,108.4 439.4,109.0 439.5,110.4 439.4,111.1 439.6,112.0 439.5,112.7 439.6,112.9 439.4,114.3 439.4,115.7 439.5,115.1 439.5,117.6 439.7,117.1 439.5,117.8 440.0,119.8 440.1,120.9 439.7,121.5 440.0,122.8 440.3,123.8 439.9,124.7 440.5,125.8 440.0,125.4 440.0,126.0 440.6,128.2 440.5,129.2 440.5,129.2 440.2,129.7 440.7,130.9 440.5,132.2 440.3,132.8 440.5,134.5 440.6,134.8 441.1,136.0 441.0,137.1 440.5,137.7 440.8,139.3 440.8,140.1 441.0,140.1 441.2,140.9 441.3,141.9 440.8,142.9 441.3,145.2 440.8,145.3 441.2,146.7 441.1,147.1 441.2,148.6 441.2,149.8 441.2,149.4 441.6,150.8 441.2,152.0 441.2,153.2 441.7,154.1 441.7,154.3 441.6,155.3 442.0,155.7 442.1,156.5 441.7,157.9 442.2,159.2 441.9,160.8 441.9,161.0 442.2,162.5 442.4,163.2 442.2,163.6 442.1,165.4 442.5,166.2 442.3,166.6 442.7,167.7 442.4,168.5 442.9,169.0 442.5,170.0 442.9,171.9 442.6,171.6 442.8,172.9 443.0,173.5 443.0,174.5 443.5,176.4 442.9,177.7 443.0,177.6 443.7,179.3 443.7,179.6 443.5,180.9 443.6,181.1 443.9,181.7 444.1,184.0 444.4,184.4 444.5,185.3 444.4,186.5 444.7,187.7 445.2,188.1 445.1,189.6 445.5,189.5 446.2,191.5 446.8,191.9 447.3,192.6 447.7,193.3 448.6,193.5 449.5,193.6 450.6,193.9 451.5,193.8 452.5,194.1 453.4,194.2 454.4,194.4 455.3,194.5 456.3,194.7" fill="none" stroke="#8a8a8a" stroke-width="0.9" stroke-linejoin="round"/>
<polyline points="377.6,194.7 378.6,194.6 379.5,194.6 380.5,194.5 381.5,194.4 382.5,194.4 383.4,194.3 384.4,194.2 385.4,194.3 386.2,193.9 387.1,193.7 387.9,193.5 388.8,192.5 389.6,192.5 390.4,192.1 391.4,192.1 392.2,191.3 393.0,191.5 394.3,190.7 394.7,190.7 395.5,189.0 395.9,189.3 397.0,188.4 397.5,187.5 398.2,187.8 399.1,186.9 400.3,186.8 400.6,185.1 401.2,184.0 401.9,183.6 402.4,182.6 402.6,181.8 403.1,180.8 403.2,180.9 403.8,179.2 404.3,178.7 404.8,178.1 405.4,176.8 406.0,176.8 405.8,175.9 406.7,174.9 406.4,174.2 407.0,171.9 406.9,172.6 407.5,170.5 407.4,169.5 407.8,169.7 408.1,167.8 408.7,168.0 408.5,167.3 409.0,166.2 409.2,165.4 409.5,164.4 409.3,163.2 409.7,162.3 409.8,161.6 410.1,159.5 410.1,158.3 410.5,157.2 410.6,156.4 410.8,156.1 411.1,155.8 410.9,154.8 411.4,153.3 411.7,152.8 411.7,151.1 412.3,149.6 412.3,149.6 412.0,148.6 412.6,148.3 412.5,147.4 412.7,145.6 413.1,143.9 413.1,144.0 413.0,143.5 413.2,141.9 413.4,141.5 413.3,139.9 413.6,139.2 414.0,137.8 414.1,137.1 414.1,135.9 414.2,136.2 414.5,134.9 414.4,133.2 414.6,132.7 415.0,132.1 414.7,131.0 415.4,129.8 415.0,128.4 415.2,127.3 415.9,127.1 416.0,126.4 416.3,125.1 416.3,124.2 416.6,123.2 416.7,121.6 416.9,121.0 417.2,119.4 417.0,118.4 417.6,118.9 417.7,117.0 418.1,116.7 418.2,114.8 418.2,114.1 418.5,113.2 419.0,113.0 418.8,111.4 419.0,109.7 419.7,109.5 420.0,108.3 419.6,107.3 420.1,107.3 420.6,105.5 420.4,103.9 420.8,103.1 420.6,101.8 420.7,102.0 420.9,101.5 421.1,100.3 421.3,97.8 421.9,97.3 422.0,96.2 421.8,96.2 422.7,97.2 423.1,96.6 423.5,98.5 423.6,99.9 423.6,101.0 424.0,100.4 423.7,102.6 424.4,102.6 424.2,104.8 424.2,105.9 424.4,105.5 424.4,107.3 424.5,108.4 424.4,109.6 424.6,110.2 424.9,110.8 424.8,112.3 425.2,113.3 425.0,113.3 424.7,115.5 425.2,116.1 425.1,116.7 425.6,118.0 425.4,118.0 425.3,119.9 425.4,120.5 425.6,121.8 425.8,121.6 425.3,122.5 425.7,124.0 426.0,125.5 425.6,126.3 426.1,127.3 426.1,127.2 426.3,129.0 426.3,130.1 426.1,129.6 426.3,131.8 426.2,132.6 426.7,132.6 426.6,134.3 426.5,134.4 426.5,136.3 426.9,136.7 426.5,138.2 427.0,138.1 427.0,140.2 427.2,140.4 427.1,141.5 426.9,141.7 427.0,143.5 427.2,144.2 427.3,145.0 427.2,145.1 427.8,146.6 427.3,148.0 427.9,148.0 427.8,149.3 427.8,149.6 427.6,152.2 428.2,152.2 428.1,152.8 428.3,154.0 428.5,155.5 428.5,156.7 428.2,156.0 428.3,157.2 428.3,157.9 428.7,160.2 428.7,161.3 429.1,160.6 429.0,162.1 428.7,164.0 428.9,164.2 429.3,165.8 429.4,165.8 429.4,166.3 429.8,168.6 429.4,167.9 429.5,169.4 430.1,171.2 430.1,170.6 430.2,172.7 430.2,174.1 429.9,173.6 430.5,175.9 430.5,175.7 430.6,177.4 430.3,177.5 430.5,178.1 430.9,179.1 430.9,180.0 431.4,180.7 431.7,182.0 431.4,184.2 431.8,185.2 432.4,186.1 432.1,186.2 432.3,188.0 433.0,188.4 432.9,188.9 433.8,190.0 434.3,190.3 434.8,191.2 435.6,192.7 436.5,193.2 437.6,193.0 438.6,193.2 439.8,193.5 440.7,193.8 441.7,194.0 442.6,194.1 443.5,194.1 444.5,194.0 445.4,194.1 446.3,194.2 447.3,194.4 448.2,194.4 449.1,194.4 450.1,194.5 451.0,194.5 451.9,194.6 452.9,194.7" fill="none" stroke="#2a2f3a" stroke-width="0.9" stroke-linejoin="round"/>
<polyline points="424.5,194.7 424.7,193.1 424.5,192.2 424.9,190.9 424.7,189.8 424.5,190.0 424.8,188.1 424.4,187.0 424.7,186.8 424.5,185.4 424.8,185.4 424.9,184.2 424.5,182.4 424.8,182.1 424.8,180.6 424.9,180.2 424.9,180.2 424.7,177.8 425.0,177.7 425.0,176.4 424.5,176.5 424.6,174.4 424.6,174.3 424.4,173.3 424.7,172.3 424.5,171.8 424.9,171.1 424.6,170.0 424.7,169.1 424.5,168.4 425.0,166.9 424.8,166.0 424.8,164.2 425.1,163.7 424.5,162.6 424.6,162.9 424.5,160.7 424.9,160.0 424.4,159.8 424.8,158.8 424.9,157.1 425.0,157.3 424.5,155.4 424.8,155.1 424.6,153.5 424.7,152.7 424.9,153.0 424.6,151.6 425.0,150.0 425.0,150.5 424.7,148.6 425.0,147.9 424.7,147.7 425.0,145.8 424.6,144.9 424.8,145.1 425.0,144.1 425.0,143.1 424.6,141.5 425.2,141.4 424.8,139.5 425.1,138.5 425.1,137.1 425.1,136.9 424.8,135.3 425.5,135.5 425.5,134.4 425.5,133.9 425.6,131.5 425.5,131.0 425.5,130.0 425.5,130.3 425.6,128.2 425.7,127.5 426.1,126.3 425.8,126.0 425.8,125.0 426.4,123.9 426.1,122.9 426.4,121.4 426.3,120.4 426.5,119.9 426.6,118.7 426.6,118.3 427.8,117.8 428.3,117.3 428.8,116.9 429.2,115.7 429.6,114.7 429.7,113.4 429.9,113.0 430.3,112.3 430.4,111.0 431.1,109.9 431.1,109.4 431.0,109.3 431.2,108.0 431.3,105.8 431.9,105.5 431.5,104.5 431.9,104.2 431.9,102.3 432.6,102.3 432.2,100.6 432.6,100.2 433.1,99.5 433.5,97.8 433.7,97.2 434.0,95.7 434.4,97.0 434.8,96.8 435.1,97.4 435.4,99.3 435.3,101.0 435.4,101.0 435.6,102.7 435.6,102.8 435.6,103.9 435.8,104.6 435.7,106.0 435.7,106.6 436.1,108.5 436.0,108.7 435.8,109.3 435.8,110.7 436.2,110.8 436.5,112.1 436.5,113.9 436.6,113.7 436.3,115.9 436.1,115.3 436.6,117.0 436.8,118.4 436.7,119.7 436.7,119.8 436.9,120.5 436.7,121.7 436.8,123.3 437.1,123.5 436.7,124.1 437.0,125.3 437.2,126.8 437.5,127.0 437.2,128.2 437.6,128.6 437.4,130.3 437.2,130.3 437.8,132.1 437.5,131.8 437.8,133.7 437.8,135.1 437.9,135.1 437.5,135.7 437.8,137.0 437.7,137.3 438.0,139.0 437.9,140.6 438.1,139.8 438.0,142.0 438.0,142.8 437.9,143.0 438.5,144.4 438.5,144.6 438.4,146.1 438.4,147.2 438.6,148.7 438.7,148.6 438.5,149.1 439.0,149.9 438.6,150.9 439.0,152.9 439.1,153.8 438.8,153.3 439.4,154.8 439.4,155.7 439.1,156.5 439.2,158.5 439.6,158.4 439.5,159.4 439.4,161.2 439.8,162.2 439.8,162.5 439.7,162.4 440.2,164.7 439.9,165.7 440.3,165.6 440.3,167.6 440.3,168.5 440.2,168.4 440.6,169.1 440.4,171.1 440.6,171.9 440.5,171.7 440.7,172.6 441.2,173.7 441.0,174.3 441.1,175.7 441.1,176.0 440.9,178.3 441.2,178.2 441.2,179.1 441.3,179.6 441.6,181.0 441.4,182.6 441.5,182.8 442.2,183.5 442.1,185.7 442.6,185.5 442.5,187.4 442.7,188.8 442.8,189.8 443.2,189.4 443.3,190.3 444.1,191.3 444.8,192.4 445.3,192.9 445.9,193.7 446.9,193.8 447.8,194.0 448.7,194.1 449.7,194.2 450.7,194.2 451.6,194.2 452.5,194.4 453.5,194.5 454.4,194.5 455.4,194.6 456.3,194.7" fill="none" stroke="#e8404a" stroke-width="0.9" stroke-linejoin="round"/>
<rect x="377.50" y="89.20" width="107.00" height="105.80" fill="none" stroke="#484848" stroke-width="1"/>
<line x1="419.70" y1="208.70" x2="422.30" y2="208.70" stroke="#d4d4d4" stroke-width="0.8"/>
<line x1="424.50" y1="208.70" x2="427.10" y2="208.70" stroke="#d4d4d4" stroke-width="0.8"/>
<line x1="443.70" y1="208.70" x2="446.30" y2="208.70" stroke="#d4d4d4" stroke-width="0.8"/>
<line x1="448.50" y1="208.70" x2="451.10" y2="208.70" stroke="#d4d4d4" stroke-width="0.8"/>
<line x1="453.30" y1="208.70" x2="455.90" y2="208.70" stroke="#d4d4d4" stroke-width="0.8"/>
<text x="374.8" y="96.1" font-size="6.4" fill="#222" text-anchor="end" font-weight="bold">100</text>
<line x1="376.00" y1="93.50" x2="377.50" y2="93.50" stroke="#555" stroke-width="0.7"/>
<text x="374.8" y="116.1" font-size="6.4" fill="#222" text-anchor="end" font-weight="bold">80</text>
<line x1="376.00" y1="113.80" x2="377.50" y2="113.80" stroke="#555" stroke-width="0.7"/>
<text x="374.8" y="136.8" font-size="6.4" fill="#222" text-anchor="end" font-weight="bold">60</text>
<line x1="376.00" y1="134.50" x2="377.50" y2="134.50" stroke="#555" stroke-width="0.7"/>
<text x="374.8" y="156.8" font-size="6.4" fill="#222" text-anchor="end" font-weight="bold">40</text>
<line x1="376.00" y1="154.50" x2="377.50" y2="154.50" stroke="#555" stroke-width="0.7"/>
<text x="374.8" y="177.3" font-size="6.4" fill="#222" text-anchor="end" font-weight="bold">20</text>
<line x1="376.00" y1="175.00" x2="377.50" y2="175.00" stroke="#555" stroke-width="0.7"/>
<text x="374.8" y="197.3" font-size="6.4" fill="#222" text-anchor="end" font-weight="bold">0</text>
<line x1="376.00" y1="195.00" x2="377.50" y2="195.00" stroke="#555" stroke-width="0.7"/>
<text x="390.0" y="205.4" font-size="6.5" fill="#222" text-anchor="middle" font-weight="bold">0</text>
<text x="415.0" y="205.4" font-size="6.5" font-weight="bold" fill="#222" text-anchor="middle">10<tspan dy="-2.5" font-size="4.8">1</tspan></text>
<text x="441.0" y="205.4" font-size="6.5" font-weight="bold" fill="#222" text-anchor="middle">10<tspan dy="-2.5" font-size="4.8">2</tspan></text>
<text x="463.5" y="205.4" font-size="6.5" font-weight="bold" fill="#222" text-anchor="middle">10<tspan dy="-2.5" font-size="4.8">3</tspan></text>
<line x1="381.00" y1="195.00" x2="381.00" y2="196.60" stroke="#666" stroke-width="0.5"/>
<line x1="383.00" y1="195.00" x2="383.00" y2="196.60" stroke="#666" stroke-width="0.5"/>
<line x1="384.50" y1="195.00" x2="384.50" y2="196.60" stroke="#666" stroke-width="0.5"/>
<line x1="386.00" y1="195.00" x2="386.00" y2="196.60" stroke="#666" stroke-width="0.5"/>
<line x1="387.00" y1="195.00" x2="387.00" y2="196.60" stroke="#666" stroke-width="0.5"/>
<line x1="388.00" y1="195.00" x2="388.00" y2="196.60" stroke="#666" stroke-width="0.5"/>
<line x1="390.00" y1="195.00" x2="390.00" y2="196.60" stroke="#666" stroke-width="0.5"/>
<line x1="393.00" y1="195.00" x2="393.00" y2="196.60" stroke="#666" stroke-width="0.5"/>
<line x1="396.00" y1="195.00" x2="396.00" y2="196.60" stroke="#666" stroke-width="0.5"/>
<line x1="398.50" y1="195.00" x2="398.50" y2="196.60" stroke="#666" stroke-width="0.5"/>
<line x1="401.00" y1="195.00" x2="401.00" y2="196.60" stroke="#666" stroke-width="0.5"/>
<line x1="403.00" y1="195.00" x2="403.00" y2="196.60" stroke="#666" stroke-width="0.5"/>
<line x1="405.00" y1="195.00" x2="405.00" y2="196.60" stroke="#666" stroke-width="0.5"/>
<line x1="407.00" y1="195.00" x2="407.00" y2="196.60" stroke="#666" stroke-width="0.5"/>
<line x1="409.00" y1="195.00" x2="409.00" y2="196.60" stroke="#666" stroke-width="0.5"/>
<line x1="411.00" y1="195.00" x2="411.00" y2="196.60" stroke="#666" stroke-width="0.5"/>
<line x1="413.00" y1="195.00" x2="413.00" y2="196.60" stroke="#666" stroke-width="0.5"/>
<line x1="421.00" y1="195.00" x2="421.00" y2="196.60" stroke="#666" stroke-width="0.5"/>
<line x1="426.00" y1="195.00" x2="426.00" y2="196.60" stroke="#666" stroke-width="0.5"/>
<line x1="429.00" y1="195.00" x2="429.00" y2="196.60" stroke="#666" stroke-width="0.5"/>
<line x1="431.50" y1="195.00" x2="431.50" y2="196.60" stroke="#666" stroke-width="0.5"/>
<line x1="433.50" y1="195.00" x2="433.50" y2="196.60" stroke="#666" stroke-width="0.5"/>
<line x1="435.00" y1="195.00" x2="435.00" y2="196.60" stroke="#666" stroke-width="0.5"/>
<line x1="436.50" y1="195.00" x2="436.50" y2="196.60" stroke="#666" stroke-width="0.5"/>
<line x1="438.00" y1="195.00" x2="438.00" y2="196.60" stroke="#666" stroke-width="0.5"/>
<line x1="446.00" y1="195.00" x2="446.00" y2="196.60" stroke="#666" stroke-width="0.5"/>
<line x1="451.00" y1="195.00" x2="451.00" y2="196.60" stroke="#666" stroke-width="0.5"/>
<line x1="454.00" y1="195.00" x2="454.00" y2="196.60" stroke="#666" stroke-width="0.5"/>
<line x1="456.50" y1="195.00" x2="456.50" y2="196.60" stroke="#666" stroke-width="0.5"/>
<line x1="458.50" y1="195.00" x2="458.50" y2="196.60" stroke="#666" stroke-width="0.5"/>
<line x1="460.00" y1="195.00" x2="460.00" y2="196.60" stroke="#666" stroke-width="0.5"/>
<line x1="461.50" y1="195.00" x2="461.50" y2="196.60" stroke="#666" stroke-width="0.5"/>
<line x1="463.00" y1="195.00" x2="463.00" y2="196.60" stroke="#666" stroke-width="0.5"/>
<line x1="471.00" y1="195.00" x2="471.00" y2="196.60" stroke="#666" stroke-width="0.5"/>
<line x1="476.00" y1="195.00" x2="476.00" y2="196.60" stroke="#666" stroke-width="0.5"/>
<line x1="479.00" y1="195.00" x2="479.00" y2="196.60" stroke="#666" stroke-width="0.5"/>
<text x="391.5" y="226.5" font-size="11.3" fill="#111">Fc<tspan font-family="'Liberation Serif','DejaVu Serif',serif" font-size="12">γ</tspan>RIII/IIb</text>
<rect x="363.40" y="257.20" width="13.80" height="9.40" fill="#fff" stroke="#111" stroke-width="1"/>
<rect x="363.00" y="273.00" width="14.60" height="9.60" fill="#000"/>
<text x="382.3" y="265.8" font-size="11.5" fill="#111">Control</text>
<text x="382.3" y="283.0" font-size="11.5" fill="#111">Arthritis (KRNxG7)</text>
<line x1="427.30" y1="313.40" x2="483.30" y2="313.40" stroke="#111" stroke-width="1.2"/>
<text x="456.0" y="311.6" font-size="11.5" fill="#111" text-anchor="middle" font-weight="bold">***</text>
<line x1="427.30" y1="338.70" x2="466.80" y2="338.70" stroke="#111" stroke-width="1.2"/>
<text x="442.3" y="337.1" font-size="11.5" fill="#111" text-anchor="middle" font-weight="bold">***</text>
<line x1="413.50" y1="363.50" x2="435.70" y2="363.50" stroke="#111" stroke-width="1.2"/>
<text x="423.0" y="362.6" font-size="11.5" fill="#111" text-anchor="middle" font-weight="bold">***</text>
<line x1="453.30" y1="363.50" x2="476.00" y2="363.50" stroke="#111" stroke-width="1.2"/>
<text x="463.6" y="362.6" font-size="11.5" fill="#111" text-anchor="middle" font-weight="bold">**</text>
<line x1="405.90" y1="366.20" x2="405.90" y2="454.90" stroke="#8a8a8a" stroke-width="0.9"/>
<line x1="405.90" y1="454.90" x2="491.30" y2="454.90" stroke="#8a8a8a" stroke-width="0.9"/>
<text x="401.3" y="371.3" font-size="10.4" fill="#111" text-anchor="end">100</text>
<line x1="403.50" y1="366.80" x2="405.90" y2="366.80" stroke="#8a8a8a" stroke-width="0.8"/>
<text x="401.3" y="388.8" font-size="10.4" fill="#111" text-anchor="end">80</text>
<line x1="403.50" y1="384.35" x2="405.90" y2="384.35" stroke="#8a8a8a" stroke-width="0.8"/>
<text x="401.3" y="406.4" font-size="10.4" fill="#111" text-anchor="end">60</text>
<line x1="403.50" y1="401.90" x2="405.90" y2="401.90" stroke="#8a8a8a" stroke-width="0.8"/>
<text x="401.3" y="423.9" font-size="10.4" fill="#111" text-anchor="end">40</text>
<line x1="403.50" y1="419.45" x2="405.90" y2="419.45" stroke="#8a8a8a" stroke-width="0.8"/>
<text x="401.3" y="441.5" font-size="10.4" fill="#111" text-anchor="end">20</text>
<line x1="403.50" y1="437.00" x2="405.90" y2="437.00" stroke="#8a8a8a" stroke-width="0.8"/>
<text x="401.3" y="459.0" font-size="10.4" fill="#111" text-anchor="end">0</text>
<line x1="403.50" y1="454.50" x2="405.90" y2="454.50" stroke="#8a8a8a" stroke-width="0.8"/>
<line x1="446.60" y1="454.70" x2="446.60" y2="457.20" stroke="#8a8a8a" stroke-width="0.8"/>
<line x1="490.90" y1="454.70" x2="490.90" y2="457.20" stroke="#8a8a8a" stroke-width="0.8"/>
<rect x="415.40" y="443.90" width="11.00" height="10.30" fill="#fff" stroke="#000" stroke-width="1.1"/>
<rect x="426.40" y="435.00" width="11.60" height="19.70" fill="#000"/>
<line x1="432.20" y1="432.40" x2="432.20" y2="435.50" stroke="#000" stroke-width="1.2"/>
<line x1="430.40" y1="432.40" x2="434.00" y2="432.40" stroke="#000" stroke-width="1.1"/>
<rect x="456.40" y="394.20" width="11.00" height="60.00" fill="#fff" stroke="#000" stroke-width="1.1"/>
<rect x="467.40" y="375.40" width="11.60" height="79.30" fill="#000"/>
<line x1="473.20" y1="370.40" x2="473.20" y2="376.00" stroke="#000" stroke-width="1.2"/>
<line x1="471.40" y1="370.40" x2="475.00" y2="370.40" stroke="#000" stroke-width="1.1"/>
<text x="412.0" y="472.7" font-size="10.4" fill="#111">KSL</text>
<text x="453.3" y="472.7" font-size="10.4" fill="#111">GMP</text>
<text transform="translate(371.1,473.6) rotate(-90)" font-size="11.7" fill="#111">Surface FcgRIII/IIb protein (MFI)</text>
<text x="4.5" y="544.8" font-size="13.5" fill="#000" font-weight="bold">B</text>
<rect x="38.60" y="534.20" width="14.40" height="10.60" fill="#fff" stroke="#111" stroke-width="1"/>
<text x="57.4" y="543.5" font-size="11.5" fill="#111">Control</text>
<rect x="104.00" y="533.20" width="14.50" height="11.20" fill="#000"/>
<text x="122.5" y="543.5" font-size="11.5" fill="#111">Arthritis (KRNxG7)</text>
<line x1="26.60" y1="567.00" x2="26.60" y2="717.50" stroke="#000" stroke-width="1.6"/>
<path d="M26.6 562.0l3.4 8.4h-6.8z" fill="#000"/>
<text transform="translate(30.5,828.3) rotate(-90)" font-size="11.6" fill="#111">Expression/GAPDH</text>
<line x1="74.00" y1="572.50" x2="74.00" y2="629.50" stroke="#858585" stroke-width="0.8"/>
<line x1="74.00" y1="629.50" x2="90.50" y2="629.50" stroke="#858585" stroke-width="0.8"/>
<rect x="77.50" y="620.50" width="4.20" height="8.60" fill="#fff" stroke="#000" stroke-width="1.0"/>
<line x1="84.50" y1="576.00" x2="84.50" y2="589.50" stroke="#1c1c1c" stroke-width="1.3"/>
<rect x="82.20" y="589.00" width="4.80" height="40.50" fill="#333"/>
<text x="66.3" y="578.3" font-size="9.3" fill="#111" text-anchor="end">0.008</text>
<text x="66.3" y="593.3" font-size="9.3" fill="#111" text-anchor="end">0.006</text>
<text x="66.3" y="607.3" font-size="9.3" fill="#111" text-anchor="end">0.004</text>
<text x="66.3" y="621.3" font-size="9.3" fill="#111" text-anchor="end">0.002</text>
<text x="68.0" y="636.3" font-size="9.3" fill="#111" text-anchor="end">0</text>
<text x="73.8" y="649.5" font-size="11.4" fill="#111" text-anchor="middle">SOCS3</text>
<text x="85.5" y="574.8" font-size="11" fill="#111" text-anchor="middle" font-weight="bold">**</text>
<line x1="131.30" y1="568.80" x2="131.30" y2="629.50" stroke="#858585" stroke-width="0.8"/>
<line x1="131.30" y1="629.50" x2="147.50" y2="629.50" stroke="#858585" stroke-width="0.8"/>
<rect x="135.00" y="625.50" width="4.70" height="3.60" fill="#fff" stroke="#000" stroke-width="1.0"/>
<line x1="142.50" y1="582.50" x2="142.50" y2="599.30" stroke="#1c1c1c" stroke-width="1.3"/>
<rect x="140.20" y="598.80" width="4.30" height="30.70" fill="#333"/>
<text x="123.0" y="587.2" font-size="9.3" fill="#111" text-anchor="end">0.004</text>
<text x="123.0" y="611.0" font-size="9.3" fill="#111" text-anchor="end">0.002</text>
<text x="122.2" y="635.8" font-size="9.3" fill="#111" text-anchor="end">0</text>
<text x="133.8" y="649.0" font-size="11.4" fill="#111" text-anchor="middle">S100a8</text>
<text x="142.5" y="571.4" font-size="11" fill="#111" text-anchor="middle" font-weight="bold">*</text>
<line x1="190.50" y1="569.00" x2="190.50" y2="629.50" stroke="#858585" stroke-width="0.8"/>
<line x1="190.50" y1="629.50" x2="206.00" y2="629.50" stroke="#858585" stroke-width="0.8"/>
<line x1="196.50" y1="616.00" x2="196.50" y2="622.50" stroke="#111" stroke-width="1.25"/>
<rect x="194.30" y="623.00" width="4.70" height="6.10" fill="#fff" stroke="#000" stroke-width="1.0"/>
<line x1="201.50" y1="573.00" x2="201.50" y2="595.50" stroke="#1c1c1c" stroke-width="1.3"/>
<rect x="199.50" y="595.00" width="3.70" height="34.50" fill="#333"/>
<text x="181.0" y="588.3" font-size="9.3" fill="#111" text-anchor="end">0.002</text>
<text x="181.0" y="611.3" font-size="9.3" fill="#111" text-anchor="end">0.001</text>
<text x="181.5" y="635.8" font-size="9.3" fill="#111" text-anchor="end">0</text>
<text x="198.8" y="648.5" font-size="11.4" fill="#111" text-anchor="middle">Chi3l3</text>
<line x1="75.50" y1="667.00" x2="75.50" y2="727.00" stroke="#858585" stroke-width="0.8"/>
<line x1="75.50" y1="727.00" x2="92.50" y2="727.00" stroke="#858585" stroke-width="0.8"/>
<rect x="79.30" y="719.30" width="4.20" height="7.30" fill="#fff" stroke="#000" stroke-width="1.0"/>
<line x1="86.50" y1="673.00" x2="86.50" y2="688.50" stroke="#1c1c1c" stroke-width="1.3"/>
<rect x="84.00" y="688.00" width="4.80" height="39.00" fill="#333"/>
<text x="65.5" y="682.1" font-size="9.3" fill="#111" text-anchor="end">0.0003</text>
<text x="65.5" y="699.1" font-size="9.3" fill="#111" text-anchor="end">0.0002</text>
<text x="65.5" y="716.3" font-size="9.3" fill="#111" text-anchor="end">0.0001</text>
<text x="65.2" y="733.8" font-size="9.3" fill="#111" text-anchor="end">0</text>
<text x="81.9" y="749.8" font-size="11.4" fill="#111" text-anchor="middle">Ccr2</text>
<text x="87.0" y="667.9" font-size="11" fill="#111" text-anchor="middle" font-weight="bold">*</text>
<line x1="130.00" y1="663.80" x2="130.00" y2="727.00" stroke="#858585" stroke-width="0.8"/>
<line x1="130.00" y1="727.00" x2="146.00" y2="727.00" stroke="#858585" stroke-width="0.8"/>
<line x1="135.50" y1="707.50" x2="135.50" y2="713.00" stroke="#111" stroke-width="1.25"/>
<rect x="133.50" y="713.50" width="4.20" height="13.10" fill="#fff" stroke="#000" stroke-width="1.0"/>
<line x1="140.50" y1="668.00" x2="140.50" y2="686.00" stroke="#1c1c1c" stroke-width="1.3"/>
<rect x="138.20" y="685.50" width="4.30" height="41.50" fill="#333"/>
<text x="124.5" y="670.3" font-size="9.3" fill="#111" text-anchor="end">0.04</text>
<text x="124.5" y="685.8" font-size="9.3" fill="#111" text-anchor="end">0.03</text>
<text x="124.5" y="702.1" font-size="9.3" fill="#111" text-anchor="end">0.02</text>
<text x="124.5" y="717.8" font-size="9.3" fill="#111" text-anchor="end">0.01</text>
<text x="125.7" y="735.8" font-size="9.3" fill="#111" text-anchor="end">0</text>
<text x="135.8" y="749.8" font-size="11.4" fill="#111" text-anchor="middle">Ear1</text>
<text x="141.0" y="667.4" font-size="11" fill="#111" text-anchor="middle" font-weight="bold">*</text>
<line x1="195.00" y1="667.00" x2="195.00" y2="728.00" stroke="#858585" stroke-width="0.8"/>
<line x1="195.00" y1="728.00" x2="211.00" y2="728.00" stroke="#858585" stroke-width="0.8"/>
<line x1="200.50" y1="698.00" x2="200.50" y2="707.50" stroke="#111" stroke-width="1.25"/>
<rect x="198.50" y="708.00" width="4.20" height="19.60" fill="#fff" stroke="#000" stroke-width="1.0"/>
<line x1="205.50" y1="670.00" x2="205.50" y2="684.30" stroke="#1c1c1c" stroke-width="1.3"/>
<rect x="203.20" y="683.80" width="4.30" height="44.20" fill="#333"/>
<text x="186.0" y="684.3" font-size="9.3" fill="#111" text-anchor="end">0.0004</text>
<text x="186.0" y="708.8" font-size="9.3" fill="#111" text-anchor="end">0.0002</text>
<text x="187.7" y="733.3" font-size="9.3" fill="#111" text-anchor="end">0</text>
<text x="173.0" y="749.5" font-size="11.4" fill="#111">C/EBP<tspan font-family="'Liberation Serif','DejaVu Serif',serif" font-size="12">β</tspan></text>
<line x1="70.50" y1="761.00" x2="70.50" y2="816.50" stroke="#858585" stroke-width="0.8"/>
<line x1="70.50" y1="816.50" x2="87.50" y2="816.50" stroke="#858585" stroke-width="0.8"/>
<line x1="76.50" y1="768.50" x2="76.50" y2="776.50" stroke="#111" stroke-width="1.25"/>
<rect x="74.30" y="777.00" width="4.20" height="39.10" fill="#fff" stroke="#000" stroke-width="1.0"/>
<line x1="80.50" y1="795.00" x2="80.50" y2="801.50" stroke="#1c1c1c" stroke-width="1.3"/>
<rect x="79.00" y="801.00" width="4.00" height="15.50" fill="#333"/>
<text x="63.0" y="767.3" font-size="9.3" fill="#111" text-anchor="end">0.006</text>
<text x="63.0" y="785.3" font-size="9.3" fill="#111" text-anchor="end">0.004</text>
<text x="63.0" y="803.3" font-size="9.3" fill="#111" text-anchor="end">0.002</text>
<text x="63.7" y="822.8" font-size="9.3" fill="#111" text-anchor="end">0</text>
<text x="79.5" y="835.5" font-size="11.4" fill="#111" text-anchor="middle">Gata1</text>
<text x="83.8" y="770.4" font-size="11" fill="#111" text-anchor="middle" font-weight="bold">*</text>
<line x1="140.80" y1="761.50" x2="140.80" y2="816.50" stroke="#858585" stroke-width="0.8"/>
<line x1="140.80" y1="816.50" x2="157.00" y2="816.50" stroke="#858585" stroke-width="0.8"/>
<line x1="146.50" y1="764.00" x2="146.50" y2="771.00" stroke="#111" stroke-width="1.25"/>
<rect x="145.00" y="771.50" width="4.00" height="44.60" fill="#fff" stroke="#000" stroke-width="1.0"/>
<line x1="151.50" y1="794.50" x2="151.50" y2="806.50" stroke="#1c1c1c" stroke-width="1.3"/>
<rect x="149.50" y="806.00" width="3.80" height="10.50" fill="#333"/>
<text x="131.3" y="767.3" font-size="9.3" fill="#111" text-anchor="end">0.0008</text>
<text x="131.3" y="781.3" font-size="9.3" fill="#111" text-anchor="end">0.0006</text>
<text x="131.3" y="795.3" font-size="9.3" fill="#111" text-anchor="end">0.0004</text>
<text x="131.3" y="809.3" font-size="9.3" fill="#111" text-anchor="end">0.0002</text>
<text x="132.2" y="823.3" font-size="9.3" fill="#111" text-anchor="end">0</text>
<text x="151.0" y="835.5" font-size="11.4" fill="#111" text-anchor="middle">EKLF</text>
<text x="155.5" y="771.2" font-size="11" fill="#111" text-anchor="middle" font-weight="bold">*</text>
<line x1="196.00" y1="765.00" x2="196.00" y2="816.50" stroke="#858585" stroke-width="0.8"/>
<line x1="196.00" y1="816.50" x2="212.00" y2="816.50" stroke="#858585" stroke-width="0.8"/>
<line x1="201.50" y1="774.80" x2="201.50" y2="787.80" stroke="#111" stroke-width="1.25"/>
<rect x="199.50" y="788.30" width="4.70" height="27.80" fill="#fff" stroke="#000" stroke-width="1.0"/>
<line x1="206.50" y1="796.50" x2="206.50" y2="805.00" stroke="#1c1c1c" stroke-width="1.3"/>
<rect x="204.70" y="804.50" width="3.30" height="12.00" fill="#333"/>
<text x="188.0" y="781.3" font-size="9.3" fill="#111" text-anchor="end">0.002</text>
<text x="188.0" y="802.3" font-size="9.3" fill="#111" text-anchor="end">0.001</text>
<text x="187.7" y="823.3" font-size="9.3" fill="#111" text-anchor="end">0</text>
<text x="209.8" y="835.5" font-size="11.4" fill="#111" text-anchor="middle">VWF</text>
<text x="257.0" y="544.6" font-size="13.5" fill="#000" font-weight="bold">D</text>
<rect x="289.30" y="527.40" width="13.30" height="11.00" fill="#fff" stroke="#111" stroke-width="1"/>
<rect x="288.80" y="543.80" width="14.20" height="10.00" fill="#000"/>
<text x="307.8" y="536.3" font-size="11.5" fill="#111">Control (PBS injection)</text>
<text x="307.8" y="552.8" font-size="11.5" fill="#111">Arthritis (Serum injection)</text>
<line x1="275.20" y1="573.80" x2="275.20" y2="719.50" stroke="#000" stroke-width="1.6"/>
<path d="M275.2 568.8l3.4 8.4h-6.8z" fill="#000"/>
<text transform="translate(279.0,828.8) rotate(-90)" font-size="11.6" fill="#111">Expression/GAPDH</text>
<line x1="314.50" y1="577.00" x2="314.50" y2="629.50" stroke="#858585" stroke-width="0.8"/>
<line x1="314.50" y1="629.50" x2="331.00" y2="629.50" stroke="#858585" stroke-width="0.8"/>
<line x1="320.50" y1="594.50" x2="320.50" y2="602.50" stroke="#111" stroke-width="1.25"/>
<rect x="318.50" y="603.00" width="4.20" height="26.10" fill="#fff" stroke="#000" stroke-width="1.0"/>
<line x1="325.50" y1="583.80" x2="325.50" y2="588.50" stroke="#1c1c1c" stroke-width="1.3"/>
<rect x="323.20" y="588.00" width="4.80" height="41.50" fill="#333"/>
<text x="307.0" y="590.8" font-size="9.3" fill="#111" text-anchor="end">0.006</text>
<text x="307.0" y="605.8" font-size="9.3" fill="#111" text-anchor="end">0.004</text>
<text x="307.0" y="620.3" font-size="9.3" fill="#111" text-anchor="end">0.002</text>
<text x="306.5" y="634.3" font-size="9.3" fill="#111" text-anchor="end">0</text>
<text x="318.8" y="647.0" font-size="11.4" fill="#111" text-anchor="middle">SOCS3</text>
<text x="326.0" y="576.2" font-size="11" fill="#111" text-anchor="middle" font-weight="bold">*</text>
<line x1="367.00" y1="577.50" x2="367.00" y2="630.00" stroke="#858585" stroke-width="0.8"/>
<line x1="367.00" y1="630.00" x2="383.80" y2="630.00" stroke="#858585" stroke-width="0.8"/>
<line x1="373.50" y1="615.00" x2="373.50" y2="617.50" stroke="#111" stroke-width="1.25"/>
<rect x="371.30" y="618.00" width="4.20" height="11.60" fill="#fff" stroke="#000" stroke-width="1.0"/>
<line x1="378.50" y1="582.50" x2="378.50" y2="598.50" stroke="#1c1c1c" stroke-width="1.3"/>
<rect x="376.00" y="598.00" width="4.50" height="32.00" fill="#333"/>
<text x="357.6" y="594.1" font-size="9.3" fill="#111" text-anchor="end">0.002</text>
<text x="357.6" y="615.3" font-size="9.3" fill="#111" text-anchor="end">0.001</text>
<text x="358.2" y="636.3" font-size="9.3" fill="#111" text-anchor="end">0</text>
<text x="369.6" y="647.8" font-size="11.4" fill="#111" text-anchor="middle">S100a8</text>
<line x1="429.50" y1="578.80" x2="429.50" y2="629.00" stroke="#858585" stroke-width="0.8"/>
<line x1="429.50" y1="629.00" x2="445.50" y2="629.00" stroke="#858585" stroke-width="0.8"/>
<line x1="435.50" y1="600.00" x2="435.50" y2="609.50" stroke="#111" stroke-width="1.25"/>
<rect x="433.50" y="610.00" width="4.20" height="18.60" fill="#fff" stroke="#000" stroke-width="1.0"/>
<line x1="440.50" y1="585.00" x2="440.50" y2="591.50" stroke="#1c1c1c" stroke-width="1.3"/>
<rect x="438.20" y="591.00" width="4.30" height="38.00" fill="#333"/>
<text x="419.4" y="584.3" font-size="9.3" fill="#111" text-anchor="end">0.002</text>
<text x="419.4" y="597.3" font-size="9.3" fill="#111" text-anchor="end">0.0015</text>
<text x="419.4" y="610.3" font-size="9.3" fill="#111" text-anchor="end">0.001</text>
<text x="419.4" y="623.3" font-size="9.3" fill="#111" text-anchor="end">0.0005</text>
<text x="419.7" y="636.3" font-size="9.3" fill="#111" text-anchor="end">0</text>
<text x="429.4" y="647.8" font-size="11.4" fill="#111" text-anchor="middle">S100a9</text>
<text x="441.8" y="577.4" font-size="11" fill="#111" text-anchor="middle" font-weight="bold">*</text>
<line x1="491.00" y1="572.70" x2="491.00" y2="628.00" stroke="#858585" stroke-width="0.8"/>
<line x1="491.00" y1="628.00" x2="508.50" y2="628.00" stroke="#858585" stroke-width="0.8"/>
<line x1="497.50" y1="605.40" x2="497.50" y2="619.40" stroke="#111" stroke-width="1.25"/>
<rect x="495.50" y="619.90" width="4.00" height="7.70" fill="#fff" stroke="#000" stroke-width="1.0"/>
<line x1="502.50" y1="577.00" x2="502.50" y2="584.30" stroke="#1c1c1c" stroke-width="1.3"/>
<rect x="500.00" y="583.80" width="4.20" height="44.20" fill="#333"/>
<text x="481.5" y="590.0" font-size="9.3" fill="#111" text-anchor="end">0.0002</text>
<text x="481.5" y="612.3" font-size="9.3" fill="#111" text-anchor="end">0.0001</text>
<text x="481.7" y="632.3" font-size="9.3" fill="#111" text-anchor="end">0</text>
<text x="493.5" y="648.4" font-size="11.4" fill="#111" text-anchor="middle">Chi3l3</text>
<text x="502.7" y="575.4" font-size="11" fill="#111" text-anchor="middle" font-weight="bold">*</text>
<line x1="356.00" y1="674.50" x2="356.00" y2="727.00" stroke="#858585" stroke-width="0.8"/>
<line x1="356.00" y1="727.00" x2="372.50" y2="727.00" stroke="#858585" stroke-width="0.8"/>
<line x1="362.50" y1="690.00" x2="362.50" y2="698.00" stroke="#111" stroke-width="1.25"/>
<rect x="360.00" y="698.50" width="4.20" height="28.10" fill="#fff" stroke="#000" stroke-width="1.0"/>
<line x1="366.50" y1="684.50" x2="366.50" y2="695.50" stroke="#1c1c1c" stroke-width="1.3"/>
<rect x="364.70" y="695.00" width="4.10" height="32.00" fill="#333"/>
<text x="341.0" y="691.3" font-size="9.3" fill="#111" text-anchor="end">0.00008</text>
<text x="341.0" y="712.3" font-size="9.3" fill="#111" text-anchor="end">0.00004</text>
<text x="339.7" y="733.8" font-size="9.3" fill="#111" text-anchor="end">0</text>
<text x="360.4" y="746.0" font-size="11.4" fill="#111" text-anchor="middle">Ccr2</text>
<line x1="421.30" y1="677.00" x2="421.30" y2="727.00" stroke="#858585" stroke-width="0.8"/>
<line x1="421.30" y1="727.00" x2="437.50" y2="727.00" stroke="#858585" stroke-width="0.8"/>
<line x1="427.50" y1="687.50" x2="427.50" y2="700.00" stroke="#111" stroke-width="1.25"/>
<rect x="425.00" y="700.50" width="4.20" height="26.10" fill="#fff" stroke="#000" stroke-width="1.0"/>
<line x1="431.50" y1="685.00" x2="431.50" y2="696.50" stroke="#1c1c1c" stroke-width="1.3"/>
<rect x="429.70" y="696.00" width="4.10" height="31.00" fill="#333"/>
<text x="412.5" y="683.3" font-size="9.3" fill="#111" text-anchor="end">0.025</text>
<text x="412.5" y="693.8" font-size="9.3" fill="#111" text-anchor="end">0.02</text>
<text x="412.5" y="703.3" font-size="9.3" fill="#111" text-anchor="end">0.015</text>
<text x="412.5" y="713.3" font-size="9.3" fill="#111" text-anchor="end">0.01</text>
<text x="412.5" y="723.3" font-size="9.3" fill="#111" text-anchor="end">0.005</text>
<text x="412.2" y="733.8" font-size="9.3" fill="#111" text-anchor="end">0</text>
<text x="429.0" y="746.0" font-size="11.4" fill="#111" text-anchor="middle">Ear1</text>
<line x1="490.50" y1="677.00" x2="490.50" y2="727.00" stroke="#858585" stroke-width="0.8"/>
<line x1="490.50" y1="727.00" x2="507.00" y2="727.00" stroke="#858585" stroke-width="0.8"/>
<line x1="496.50" y1="681.00" x2="496.50" y2="691.00" stroke="#111" stroke-width="1.25"/>
<rect x="494.30" y="691.50" width="4.20" height="35.10" fill="#fff" stroke="#000" stroke-width="1.0"/>
<line x1="500.50" y1="695.00" x2="500.50" y2="703.00" stroke="#1c1c1c" stroke-width="1.3"/>
<rect x="499.00" y="702.50" width="4.00" height="24.50" fill="#333"/>
<text x="478.8" y="683.3" font-size="9.3" fill="#111" text-anchor="end">0.0004</text>
<text x="478.8" y="695.8" font-size="9.3" fill="#111" text-anchor="end">0.0003</text>
<text x="478.8" y="708.3" font-size="9.3" fill="#111" text-anchor="end">0.0002</text>
<text x="478.8" y="720.8" font-size="9.3" fill="#111" text-anchor="end">0.0001</text>
<text x="480.7" y="732.3" font-size="9.3" fill="#111" text-anchor="end">0</text>
<text x="472.5" y="744.2" font-size="11.4" fill="#111">C/EBP<tspan font-family="'Liberation Serif','DejaVu Serif',serif" font-size="12">β</tspan></text>
<line x1="318.00" y1="766.00" x2="318.00" y2="817.00" stroke="#858585" stroke-width="0.8"/>
<line x1="318.00" y1="817.00" x2="334.50" y2="817.00" stroke="#858585" stroke-width="0.8"/>
<line x1="323.50" y1="773.50" x2="323.50" y2="776.00" stroke="#111" stroke-width="1.25"/>
<rect x="321.80" y="776.50" width="4.20" height="40.10" fill="#fff" stroke="#000" stroke-width="1.0"/>
<line x1="328.50" y1="785.00" x2="328.50" y2="792.00" stroke="#1c1c1c" stroke-width="1.3"/>
<rect x="326.50" y="791.50" width="4.00" height="25.50" fill="#333"/>
<text x="308.0" y="773.3" font-size="9.3" fill="#111" text-anchor="end">0.005</text>
<text x="308.0" y="783.1" font-size="9.3" fill="#111" text-anchor="end">0.004</text>
<text x="308.0" y="793.1" font-size="9.3" fill="#111" text-anchor="end">0.003</text>
<text x="308.0" y="803.1" font-size="9.3" fill="#111" text-anchor="end">0.002</text>
<text x="308.0" y="813.1" font-size="9.3" fill="#111" text-anchor="end">0.001</text>
<text x="308.7" y="823.3" font-size="9.3" fill="#111" text-anchor="end">0</text>
<text x="320.5" y="835.5" font-size="11.4" fill="#111" text-anchor="middle">Gata1</text>
<text x="329.5" y="774.9" font-size="11" fill="#111" text-anchor="middle" font-weight="bold">*</text>
<line x1="380.00" y1="766.50" x2="380.00" y2="817.00" stroke="#858585" stroke-width="0.8"/>
<line x1="380.00" y1="817.00" x2="396.30" y2="817.00" stroke="#858585" stroke-width="0.8"/>
<line x1="385.50" y1="774.00" x2="385.50" y2="789.00" stroke="#111" stroke-width="1.25"/>
<rect x="383.50" y="789.50" width="4.20" height="27.10" fill="#fff" stroke="#000" stroke-width="1.0"/>
<line x1="390.50" y1="780.00" x2="390.50" y2="792.50" stroke="#1c1c1c" stroke-width="1.3"/>
<rect x="388.20" y="792.00" width="3.80" height="25.00" fill="#333"/>
<text x="371.3" y="773.3" font-size="9.3" fill="#111" text-anchor="end">0.0008</text>
<text x="371.3" y="785.3" font-size="9.3" fill="#111" text-anchor="end">0.0006</text>
<text x="371.3" y="798.1" font-size="9.3" fill="#111" text-anchor="end">0.0004</text>
<text x="371.3" y="810.3" font-size="9.3" fill="#111" text-anchor="end">0.0002</text>
<text x="370.2" y="823.3" font-size="9.3" fill="#111" text-anchor="end">0</text>
<text x="386.5" y="835.5" font-size="11.4" fill="#111" text-anchor="middle">EKLF</text>
<line x1="433.00" y1="765.00" x2="433.00" y2="817.00" stroke="#858585" stroke-width="0.8"/>
<line x1="433.00" y1="817.00" x2="450.00" y2="817.00" stroke="#858585" stroke-width="0.8"/>
<line x1="439.50" y1="767.00" x2="439.50" y2="775.00" stroke="#111" stroke-width="1.25"/>
<rect x="437.30" y="775.50" width="3.70" height="41.10" fill="#fff" stroke="#000" stroke-width="1.0"/>
<line x1="443.50" y1="785.80" x2="443.50" y2="790.50" stroke="#1c1c1c" stroke-width="1.3"/>
<rect x="441.50" y="790.00" width="4.00" height="27.00" fill="#333"/>
<text x="422.5" y="778.1" font-size="9.3" fill="#111" text-anchor="end">0.06</text>
<text x="422.5" y="793.3" font-size="9.3" fill="#111" text-anchor="end">0.04</text>
<text x="422.5" y="808.3" font-size="9.3" fill="#111" text-anchor="end">0.02</text>
<text x="422.7" y="823.3" font-size="9.3" fill="#111" text-anchor="end">0</text>
<text x="441.3" y="835.5" font-size="11.4" fill="#111" text-anchor="middle">Fog1</text>
<text x="444.5" y="774.4" font-size="11" fill="#111" text-anchor="middle" font-weight="bold">*</text>
<line x1="492.00" y1="763.00" x2="492.00" y2="816.70" stroke="#858585" stroke-width="0.8"/>
<line x1="492.00" y1="816.70" x2="508.80" y2="816.70" stroke="#858585" stroke-width="0.8"/>
<line x1="498.50" y1="771.30" x2="498.50" y2="786.70" stroke="#111" stroke-width="1.25"/>
<rect x="496.10" y="787.20" width="4.00" height="29.10" fill="#fff" stroke="#000" stroke-width="1.0"/>
<line x1="502.50" y1="802.00" x2="502.50" y2="806.00" stroke="#1c1c1c" stroke-width="1.3"/>
<rect x="500.60" y="805.50" width="4.00" height="11.20" fill="#333"/>
<text x="481.0" y="780.3" font-size="9.3" fill="#111" text-anchor="end">0.008</text>
<text x="481.0" y="802.1" font-size="9.3" fill="#111" text-anchor="end">0.004</text>
<text x="482.3" y="822.5" font-size="9.3" fill="#111" text-anchor="end">0</text>
<text x="498.8" y="835.5" font-size="11.4" fill="#111" text-anchor="middle">Mpa2l</text>
</svg>
</body>
</html>
